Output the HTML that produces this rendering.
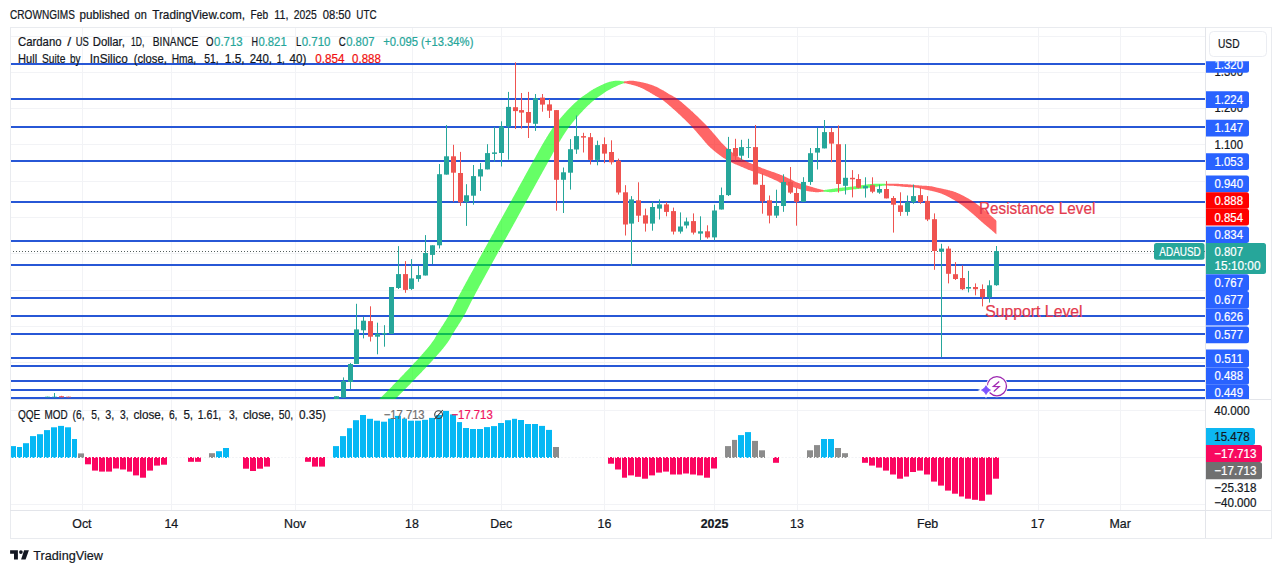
<!DOCTYPE html>
<html><head><meta charset="utf-8"><title>ADAUSD chart</title>
<style>
html,body{margin:0;padding:0;background:#fff;}
body{width:1281px;height:573px;overflow:hidden;font-family:'Liberation Sans', sans-serif;}
svg{display:block;font-family:'Liberation Sans', sans-serif;}
</style></head><body>
<svg width="1281" height="573" viewBox="0 0 1281 573">
<rect width="1281" height="573" fill="#fff"/>
<g stroke="#f2f3f6" stroke-width="1" shape-rendering="crispEdges">
<line x1="82.5" y1="27" x2="82.5" y2="510"/>
<line x1="171.5" y1="27" x2="171.5" y2="510"/>
<line x1="295.5" y1="27" x2="295.5" y2="510"/>
<line x1="412.5" y1="27" x2="412.5" y2="510"/>
<line x1="501.5" y1="27" x2="501.5" y2="510"/>
<line x1="604.5" y1="27" x2="604.5" y2="510"/>
<line x1="714.5" y1="27" x2="714.5" y2="510"/>
<line x1="797.5" y1="27" x2="797.5" y2="510"/>
<line x1="928.5" y1="27" x2="928.5" y2="510"/>
<line x1="1038.5" y1="27" x2="1038.5" y2="510"/>
<line x1="1120.5" y1="27" x2="1120.5" y2="510"/>
<line x1="10" y1="36.5" x2="1205.5" y2="36.5"/>
<line x1="10" y1="72.5" x2="1205.5" y2="72.5"/>
<line x1="10" y1="108.5" x2="1205.5" y2="108.5"/>
<line x1="10" y1="144.5" x2="1205.5" y2="144.5"/>
<line x1="10" y1="181.5" x2="1205.5" y2="181.5"/>
<line x1="10" y1="217.5" x2="1205.5" y2="217.5"/>
<line x1="10" y1="253.5" x2="1205.5" y2="253.5"/>
<line x1="10" y1="290.5" x2="1205.5" y2="290.5"/>
<line x1="10" y1="326.5" x2="1205.5" y2="326.5"/>
<line x1="10" y1="362.5" x2="1205.5" y2="362.5"/>
<line x1="10" y1="410.5" x2="1205.5" y2="410.5"/>
<line x1="10" y1="457.5" x2="1205.5" y2="457.5"/>
<line x1="10" y1="504.5" x2="1205.5" y2="504.5"/>
</g>
<clipPath id="p1"><rect x="10" y="27" width="1195.5" height="372"/></clipPath>
<g clip-path="url(#p1)">
<line x1="10" y1="251.5" x2="1205.5" y2="251.5" stroke="#56605f" stroke-width="1" stroke-dasharray="1 2" shape-rendering="crispEdges"/>
<rect x="10" y="63" width="1195.5" height="2" fill="#2757d6"/>
<rect x="10" y="98" width="1195.5" height="2" fill="#2757d6"/>
<rect x="10" y="126" width="1195.5" height="2" fill="#2757d6"/>
<rect x="10" y="160" width="1195.5" height="2" fill="#2757d6"/>
<rect x="10" y="201" width="1195.5" height="2" fill="#2757d6"/>
<rect x="10" y="240" width="1195.5" height="2" fill="#2757d6"/>
<rect x="10" y="264" width="1195.5" height="2" fill="#2757d6"/>
<rect x="10" y="297" width="1195.5" height="2" fill="#2757d6"/>
<rect x="10" y="315" width="1195.5" height="2" fill="#2757d6"/>
<rect x="10" y="333" width="1195.5" height="2" fill="#2757d6"/>
<rect x="10" y="357" width="1195.5" height="2" fill="#2757d6"/>
<rect x="10" y="365" width="1195.5" height="2" fill="#2757d6"/>
<rect x="10" y="380" width="1195.5" height="2" fill="#2757d6"/>
<rect x="10" y="389" width="1195.5" height="2" fill="#2757d6"/>
<rect x="10" y="397" width="1195.5" height="2" fill="#2757d6"/>
<clipPath id="bandclip"><rect x="0" y="0" width="996.4" height="399"/></clipPath>
<g opacity="0.6" clip-path="url(#bandclip)">
<polygon points="370.0,408.3 370.5,407.9 371.0,407.4 371.5,407.0 372.0,406.5 372.5,406.1 373.0,405.6 373.5,405.2 374.0,404.7 374.5,404.3 375.0,403.8 375.5,403.4 376.0,403.0 376.5,402.5 377.0,402.1 377.5,401.6 378.0,401.2 378.5,400.7 379.0,400.2 379.5,399.8 380.0,399.3 380.5,398.9 381.0,398.4 381.5,397.9 382.0,397.4 382.5,397.0 383.0,396.5 383.5,396.0 384.0,395.5 384.5,395.0 385.0,394.5 385.5,394.0 386.0,393.5 386.5,393.0 387.0,392.5 387.5,392.0 388.0,391.5 388.5,391.0 389.0,390.5 389.5,390.0 390.0,389.5 390.5,389.0 391.0,388.5 391.5,388.0 392.0,387.5 392.5,387.0 393.0,386.4 393.5,385.9 394.0,385.4 394.5,384.9 395.0,384.4 395.5,383.8 396.0,383.3 396.5,382.8 397.0,382.3 397.5,381.8 398.0,381.2 398.5,380.7 399.0,380.2 399.5,379.7 400.0,379.2 400.5,378.6 401.0,378.1 401.5,377.6 402.0,377.1 402.5,376.6 403.0,376.0 403.5,375.5 404.0,375.0 404.5,374.5 405.0,373.9 405.5,373.4 406.0,372.9 406.5,372.4 407.0,371.8 407.5,371.3 408.0,370.8 408.5,370.3 409.0,369.7 409.5,369.2 410.0,368.7 410.5,368.2 411.0,367.6 411.5,367.1 412.0,366.6 412.5,366.0 413.0,365.5 413.5,365.0 414.0,364.4 414.5,363.9 415.0,363.4 415.5,362.9 416.0,362.3 416.5,361.8 417.0,361.2 417.5,360.7 418.0,360.2 418.5,359.6 419.0,359.1 419.5,358.5 420.0,357.9 420.5,357.4 421.0,356.8 421.5,356.2 422.0,355.7 422.5,355.1 423.0,354.5 423.5,354.0 424.0,353.4 424.5,352.9 425.0,352.3 425.5,351.7 426.0,351.1 426.5,350.6 427.0,350.0 427.5,349.4 428.0,348.8 428.5,348.2 429.0,347.6 429.5,347.0 430.0,346.3 430.5,345.7 431.0,345.0 431.5,344.4 432.0,343.7 432.5,343.0 433.0,342.3 433.5,341.6 434.0,340.9 434.5,340.2 435.0,339.4 435.5,338.6 436.0,337.7 436.5,336.8 437.0,335.9 437.5,335.0 438.0,334.1 438.5,333.3 439.0,332.5 439.5,331.7 440.0,330.9 440.5,330.1 441.0,329.3 441.5,328.5 442.0,327.7 442.5,326.9 443.0,326.2 443.5,325.4 444.0,324.6 444.5,323.8 445.0,323.0 445.5,322.3 446.0,321.5 446.5,320.7 447.0,319.8 447.5,319.0 448.0,318.2 448.5,317.3 449.0,316.5 449.5,315.6 450.0,314.7 450.5,313.8 451.0,312.8 451.5,311.9 452.0,310.9 452.5,310.0 453.0,309.0 453.5,308.0 454.0,307.0 454.5,306.0 455.0,305.0 455.5,304.0 456.0,303.0 456.5,302.0 457.0,301.0 457.5,300.0 458.0,299.1 458.5,298.1 459.0,297.2 459.5,296.2 460.0,295.3 460.5,294.4 461.0,293.4 461.5,292.5 462.0,291.6 462.5,290.6 463.0,289.7 463.5,288.8 464.0,287.8 464.5,286.9 465.0,286.0 465.5,285.1 466.0,284.2 466.5,283.2 467.0,282.3 467.5,281.4 468.0,280.5 468.5,279.6 469.0,278.7 469.5,277.7 470.0,276.8 470.5,275.9 471.0,275.0 471.5,274.1 472.0,273.2 472.5,272.3 473.0,271.4 473.5,270.5 474.0,269.6 474.5,268.7 475.0,267.8 475.5,266.9 476.0,266.0 476.5,265.1 477.0,264.2 477.5,263.3 478.0,262.4 478.5,261.5 479.0,260.5 479.5,259.6 480.0,258.7 480.5,257.8 481.0,256.9 481.5,256.0 482.0,255.1 482.5,254.2 483.0,253.3 483.5,252.4 484.0,251.5 484.5,250.6 485.0,249.7 485.5,248.8 486.0,247.9 486.5,247.0 487.0,246.1 487.5,245.2 488.0,244.3 488.5,243.4 489.0,242.5 489.5,241.6 490.0,240.7 490.5,239.8 491.0,238.9 491.5,238.0 492.0,237.1 492.5,236.2 493.0,235.3 493.5,234.4 494.0,233.5 494.5,232.5 495.0,231.6 495.5,230.7 496.0,229.8 496.5,228.9 497.0,228.0 497.5,227.1 498.0,226.2 498.5,225.3 499.0,224.4 499.5,223.5 500.0,222.6 500.5,221.7 501.0,220.8 501.5,219.9 502.0,219.0 502.5,218.1 503.0,217.2 503.5,216.3 504.0,215.4 504.5,214.5 505.0,213.6 505.5,212.7 506.0,211.8 506.5,210.9 507.0,210.0 507.5,209.1 508.0,208.2 508.5,207.3 509.0,206.4 509.5,205.5 510.0,204.6 510.5,203.7 511.0,202.7 511.5,201.8 512.0,200.9 512.5,200.0 513.0,199.1 513.5,198.2 514.0,197.3 514.5,196.4 515.0,195.5 515.5,194.6 516.0,193.7 516.5,192.8 517.0,191.9 517.5,191.0 518.0,190.1 518.5,189.1 519.0,188.2 519.5,187.3 520.0,186.4 520.5,185.5 521.0,184.6 521.5,183.7 522.0,182.8 522.5,181.9 523.0,181.0 523.5,180.1 524.0,179.2 524.5,178.3 525.0,177.3 525.5,176.4 526.0,175.5 526.5,174.6 527.0,173.7 527.5,172.8 528.0,171.9 528.5,171.0 529.0,170.1 529.5,169.2 530.0,168.3 530.5,167.4 531.0,166.5 531.5,165.6 532.0,164.7 532.5,163.8 533.0,162.9 533.5,162.0 534.0,161.1 534.5,160.2 535.0,159.3 535.5,158.4 536.0,157.5 536.5,156.6 537.0,155.7 537.5,154.8 538.0,153.9 538.5,153.0 539.0,152.1 539.5,151.2 540.0,150.3 540.5,149.4 541.0,148.5 541.5,147.6 542.0,146.7 542.5,145.8 543.0,145.0 543.5,144.1 544.0,143.2 544.5,142.4 545.0,141.5 545.5,140.7 546.0,139.9 546.5,139.1 547.0,138.2 547.5,137.4 548.0,136.6 548.5,135.8 549.0,135.0 549.5,134.2 550.0,133.4 550.5,132.6 551.0,131.8 551.5,131.1 552.0,130.3 552.5,129.6 553.0,128.9 553.5,128.2 554.0,127.5 554.5,126.8 555.0,126.2 555.5,125.5 556.0,124.9 556.5,124.3 557.0,123.6 557.5,123.0 558.0,122.4 558.5,121.8 559.0,121.2 559.5,120.5 560.0,119.9 560.5,119.3 561.0,118.7 561.5,118.1 562.0,117.6 562.5,117.0 563.0,116.4 563.5,115.8 564.0,115.2 564.5,114.7 565.0,114.1 565.5,113.6 566.0,113.0 566.5,112.5 567.0,111.9 567.5,111.4 568.0,110.8 568.5,110.3 569.0,109.8 569.5,109.3 570.0,108.7 570.5,108.2 571.0,107.7 571.5,107.2 572.0,106.7 572.5,106.2 573.0,105.7 573.5,105.3 574.0,104.8 574.5,104.3 575.0,103.8 575.5,103.4 576.0,102.9 576.5,102.5 577.0,102.0 577.5,101.6 578.0,101.1 578.5,100.7 579.0,100.3 579.5,99.8 580.0,99.4 580.5,99.0 581.0,98.6 581.5,98.2 582.0,97.8 582.5,97.5 583.0,97.1 583.5,96.7 584.0,96.4 584.5,96.1 585.0,95.7 585.5,95.4 586.0,95.0 586.5,94.7 587.0,94.4 587.5,94.0 588.0,93.7 588.5,93.3 589.0,93.0 589.5,92.6 590.0,92.2 590.5,91.9 591.0,91.6 591.5,91.2 592.0,90.9 592.5,90.6 593.0,90.3 593.5,90.0 594.0,89.7 594.5,89.4 595.0,89.1 595.5,88.9 596.0,88.6 596.5,88.3 597.0,88.1 597.5,87.8 598.0,87.6 598.5,87.3 599.0,87.1 599.5,86.8 600.0,86.6 600.5,86.3 601.0,86.1 601.5,85.8 602.0,85.6 602.5,85.4 603.0,85.1 603.5,84.9 604.0,84.7 604.5,84.5 605.0,84.2 605.5,84.0 606.0,83.9 606.5,83.7 607.0,83.5 607.5,83.3 608.0,83.1 608.5,82.9 609.0,82.8 609.5,82.6 610.0,82.5 610.5,82.4 611.0,82.3 611.5,82.2 612.0,82.1 612.5,82.0 613.0,81.9 613.5,81.8 614.0,81.8 614.5,81.7 615.0,81.6 615.5,81.6 616.0,81.5 616.5,81.5 617.0,81.5 617.5,81.5 618.0,81.5 618.5,81.5 619.0,81.6 619.5,81.6 620.0,81.7 620.5,81.7 621.0,81.8 621.5,81.9 622.0,82.0 622.5,82.0 623.0,82.1 623.5,82.2 624.0,82.3 624.5,82.4 624.5,82.3 624.0,82.4 623.5,82.6 623.0,82.7 622.5,82.8 622.0,83.0 621.5,83.2 621.0,83.4 620.5,83.6 620.0,83.8 619.5,84.0 619.0,84.1 618.5,84.4 618.0,84.6 617.5,84.8 617.0,85.0 616.5,85.2 616.0,85.5 615.5,85.7 615.0,86.0 614.5,86.2 614.0,86.4 613.5,86.7 613.0,86.9 612.5,87.2 612.0,87.4 611.5,87.7 611.0,87.9 610.5,88.2 610.0,88.5 609.5,88.7 609.0,89.0 608.5,89.3 608.0,89.5 607.5,89.8 607.0,90.1 606.5,90.4 606.0,90.7 605.5,91.1 605.0,91.4 604.5,91.7 604.0,92.1 603.5,92.4 603.0,92.8 602.5,93.1 602.0,93.5 601.5,93.8 601.0,94.2 600.5,94.5 600.0,94.9 599.5,95.2 599.0,95.5 598.5,95.9 598.0,96.2 597.5,96.6 597.0,96.9 596.5,97.3 596.0,97.6 595.5,98.0 595.0,98.4 594.5,98.8 594.0,99.2 593.5,99.6 593.0,100.1 592.5,100.5 592.0,100.9 591.5,101.3 591.0,101.8 590.5,102.2 590.0,102.7 589.5,103.1 589.0,103.6 588.5,104.1 588.0,104.5 587.5,105.0 587.0,105.5 586.5,106.0 586.0,106.5 585.5,107.0 585.0,107.5 584.5,108.0 584.0,108.5 583.5,109.0 583.0,109.5 582.5,110.0 582.0,110.6 581.5,111.1 581.0,111.6 580.5,112.2 580.0,112.7 579.5,113.3 579.0,113.8 578.5,114.4 578.0,115.0 577.5,115.5 577.0,116.1 576.5,116.7 576.0,117.3 575.5,117.9 575.0,118.4 574.5,119.0 574.0,119.6 573.5,120.2 573.0,120.8 572.5,121.5 572.0,122.1 571.5,122.7 571.0,123.3 570.5,124.0 570.0,124.6 569.5,125.2 569.0,125.9 568.5,126.5 568.0,127.2 567.5,127.8 567.0,128.5 566.5,129.2 566.0,130.0 565.5,130.7 565.0,131.5 564.5,132.2 564.0,133.0 563.5,133.8 563.0,134.6 562.5,135.4 562.0,136.2 561.5,137.0 561.0,137.8 560.5,138.6 560.0,139.5 559.5,140.3 559.0,141.1 558.5,142.0 558.0,142.8 557.5,143.7 557.0,144.5 556.5,145.4 556.0,146.3 555.5,147.1 555.0,148.0 554.5,148.9 554.0,149.8 553.5,150.7 553.0,151.6 552.5,152.5 552.0,153.4 551.5,154.3 551.0,155.3 550.5,156.2 550.0,157.1 549.5,158.0 549.0,158.9 548.5,159.8 548.0,160.7 547.5,161.6 547.0,162.5 546.5,163.4 546.0,164.3 545.5,165.2 545.0,166.1 544.5,167.0 544.0,167.9 543.5,168.8 543.0,169.7 542.5,170.6 542.0,171.5 541.5,172.4 541.0,173.3 540.5,174.2 540.0,175.1 539.5,176.0 539.0,176.9 538.5,177.8 538.0,178.7 537.5,179.6 537.0,180.5 536.5,181.4 536.0,182.3 535.5,183.2 535.0,184.2 534.5,185.1 534.0,186.0 533.5,186.9 533.0,187.8 532.5,188.7 532.0,189.6 531.5,190.5 531.0,191.4 530.5,192.3 530.0,193.2 529.5,194.1 529.0,195.1 528.5,196.0 528.0,196.9 527.5,197.8 527.0,198.7 526.5,199.6 526.0,200.5 525.5,201.4 525.0,202.3 524.5,203.2 524.0,204.1 523.5,205.0 523.0,205.9 522.5,206.8 522.0,207.7 521.5,208.6 521.0,209.5 520.5,210.4 520.0,211.3 519.5,212.2 519.0,213.1 518.5,214.0 518.0,214.9 517.5,215.8 517.0,216.7 516.5,217.6 516.0,218.6 515.5,219.5 515.0,220.4 514.5,221.3 514.0,222.2 513.5,223.1 513.0,224.0 512.5,224.9 512.0,225.8 511.5,226.7 511.0,227.6 510.5,228.5 510.0,229.4 509.5,230.3 509.0,231.2 508.5,232.1 508.0,233.0 507.5,233.9 507.0,234.8 506.5,235.7 506.0,236.6 505.5,237.5 505.0,238.4 504.5,239.3 504.0,240.2 503.5,241.2 503.0,242.1 502.5,243.0 502.0,243.9 501.5,244.8 501.0,245.7 500.5,246.6 500.0,247.5 499.5,248.4 499.0,249.3 498.5,250.2 498.0,251.1 497.5,252.0 497.0,252.9 496.5,253.8 496.0,254.7 495.5,255.6 495.0,256.5 494.5,257.4 494.0,258.3 493.5,259.2 493.0,260.1 492.5,261.0 492.0,261.9 491.5,262.8 491.0,263.7 490.5,264.6 490.0,265.5 489.5,266.4 489.0,267.3 488.5,268.2 488.0,269.1 487.5,270.0 487.0,270.9 486.5,271.8 486.0,272.7 485.5,273.7 485.0,274.6 484.5,275.5 484.0,276.4 483.5,277.3 483.0,278.2 482.5,279.1 482.0,280.0 481.5,280.9 481.0,281.9 480.5,282.8 480.0,283.7 479.5,284.6 479.0,285.5 478.5,286.5 478.0,287.4 477.5,288.3 477.0,289.2 476.5,290.2 476.0,291.1 475.5,292.0 475.0,293.0 474.5,293.9 474.0,294.8 473.5,295.8 473.0,296.7 472.5,297.7 472.0,298.6 471.5,299.6 471.0,300.5 470.5,301.5 470.0,302.5 469.5,303.5 469.0,304.5 468.5,305.5 468.0,306.5 467.5,307.5 467.0,308.5 466.5,309.5 466.0,310.4 465.5,311.4 465.0,312.4 464.5,313.3 464.0,314.2 463.5,315.1 463.0,316.0 462.5,316.9 462.0,317.8 461.5,318.6 461.0,319.4 460.5,320.3 460.0,321.1 459.5,321.9 459.0,322.7 458.5,323.4 458.0,324.2 457.5,325.0 457.0,325.8 456.5,326.6 456.0,327.3 455.5,328.1 455.0,328.9 454.5,329.7 454.0,330.5 453.5,331.3 453.0,332.1 452.5,332.9 452.0,333.7 451.5,334.6 451.0,335.5 450.5,336.4 450.0,337.3 449.5,338.2 449.0,339.0 448.5,339.8 448.0,340.6 447.5,341.3 447.0,342.0 446.5,342.7 446.0,343.4 445.5,344.1 445.0,344.7 444.5,345.4 444.0,346.0 443.5,346.6 443.0,347.3 442.5,347.9 442.0,348.5 441.5,349.1 441.0,349.7 440.5,350.3 440.0,350.9 439.5,351.4 439.0,352.0 438.5,352.6 438.0,353.1 437.5,353.7 437.0,354.3 436.5,354.8 436.0,355.4 435.5,356.0 435.0,356.5 434.5,357.1 434.0,357.7 433.5,358.2 433.0,358.8 432.5,359.3 432.0,359.9 431.5,360.4 431.0,361.0 430.5,361.5 430.0,362.1 429.5,362.6 429.0,363.1 428.5,363.6 428.0,364.2 427.5,364.7 427.0,365.2 426.5,365.8 426.0,366.3 425.5,366.8 425.0,367.4 424.5,367.9 424.0,368.4 423.5,369.0 423.0,369.5 422.5,370.0 422.0,370.5 421.5,371.1 421.0,371.6 420.5,372.1 420.0,372.6 419.5,373.2 419.0,373.7 418.5,374.2 418.0,374.7 417.5,375.3 417.0,375.8 416.5,376.3 416.0,376.8 415.5,377.3 415.0,377.9 414.5,378.4 414.0,378.9 413.5,379.4 413.0,379.9 412.5,380.5 412.0,381.0 411.5,381.5 411.0,382.0 410.5,382.5 410.0,383.1 409.5,383.6 409.0,384.1 408.5,384.6 408.0,385.2 407.5,385.7 407.0,386.2 406.5,386.7 406.0,387.2 405.5,387.7 405.0,388.2 404.5,388.8 404.0,389.3 403.5,389.8 403.0,390.3 402.5,390.8 402.0,391.3 401.5,391.8 401.0,392.3 400.5,392.8 400.0,393.3 399.5,393.8 399.0,394.3 398.5,394.8 398.0,395.3 397.5,395.8 397.0,396.2 396.5,396.7 396.0,397.2 395.5,397.7 395.0,398.2 394.5,398.6 394.0,399.1 393.5,399.6 393.0,400.0 392.5,400.5 392.0,400.9 391.5,401.4 391.0,401.8 390.5,402.3 390.0,402.7 389.5,403.2 389.0,403.6 388.5,404.1 388.0,404.5 387.5,405.0 387.0,405.4 386.5,405.8 386.0,406.3 385.5,406.7 385.0,407.2 384.5,407.6 384.0,408.1 383.5,408.5 383.0,409.0 382.5,409.4 382.0,409.9 381.5,410.3 381.0,410.8 380.5,411.3 380.0,411.7 379.5,412.2 379.0,412.6 378.5,413.1 378.0,413.6 377.5,414.0 377.0,414.5 376.5,414.9 376.0,415.4 375.5,415.9 375.0,416.3 374.5,416.8 374.0,417.2 373.5,417.7 373.0,418.2 372.5,418.6 372.0,419.1 371.5,419.6 371.0,420.0 370.5,420.5 370.0,421.0" fill="#00ff00" stroke="#00ff00" stroke-width="1.5" stroke-linejoin="round"/>
<polygon points="624.5,82.4 625.0,82.4 625.5,82.5 626.0,82.6 626.5,82.7 627.0,82.8 627.5,82.9 628.0,83.0 628.5,83.2 629.0,83.3 629.5,83.4 630.0,83.5 630.5,83.6 631.0,83.8 631.5,83.9 632.0,84.0 632.5,84.2 633.0,84.3 633.5,84.4 634.0,84.6 634.5,84.7 635.0,84.8 635.5,85.0 636.0,85.1 636.5,85.3 637.0,85.5 637.5,85.6 638.0,85.8 638.5,86.0 639.0,86.2 639.5,86.3 640.0,86.5 640.5,86.7 641.0,87.0 641.5,87.2 642.0,87.4 642.5,87.7 643.0,87.9 643.5,88.1 644.0,88.4 644.5,88.7 645.0,88.9 645.5,89.2 646.0,89.5 646.5,89.7 647.0,90.0 647.5,90.3 648.0,90.5 648.5,90.8 649.0,91.1 649.5,91.4 650.0,91.7 650.5,92.0 651.0,92.3 651.5,92.6 652.0,92.9 652.5,93.2 653.0,93.5 653.5,93.8 654.0,94.1 654.5,94.4 655.0,94.7 655.5,95.0 656.0,95.3 656.5,95.6 657.0,95.9 657.5,96.1 658.0,96.4 658.5,96.7 659.0,96.9 659.5,97.2 660.0,97.5 660.5,97.8 661.0,98.1 661.5,98.4 662.0,98.7 662.5,99.1 663.0,99.4 663.5,99.7 664.0,100.1 664.5,100.5 665.0,100.9 665.5,101.3 666.0,101.7 666.5,102.1 667.0,102.5 667.5,102.9 668.0,103.3 668.5,103.8 669.0,104.2 669.5,104.6 670.0,105.1 670.5,105.5 671.0,105.9 671.5,106.4 672.0,106.8 672.5,107.3 673.0,107.7 673.5,108.1 674.0,108.6 674.5,109.0 675.0,109.5 675.5,109.9 676.0,110.3 676.5,110.8 677.0,111.3 677.5,111.7 678.0,112.2 678.5,112.6 679.0,113.1 679.5,113.6 680.0,114.0 680.5,114.5 681.0,115.0 681.5,115.5 682.0,115.9 682.5,116.4 683.0,116.9 683.5,117.4 684.0,117.8 684.5,118.3 685.0,118.8 685.5,119.3 686.0,119.8 686.5,120.3 687.0,120.8 687.5,121.2 688.0,121.7 688.5,122.2 689.0,122.7 689.5,123.2 690.0,123.8 690.5,124.3 691.0,124.8 691.5,125.3 692.0,125.8 692.5,126.3 693.0,126.9 693.5,127.4 694.0,127.9 694.5,128.5 695.0,129.1 695.5,129.6 696.0,130.2 696.5,130.7 697.0,131.3 697.5,131.9 698.0,132.5 698.5,133.1 699.0,133.6 699.5,134.2 700.0,134.8 700.5,135.4 701.0,135.9 701.5,136.5 702.0,137.1 702.5,137.7 703.0,138.3 703.5,138.9 704.0,139.5 704.5,140.1 705.0,140.7 705.5,141.3 706.0,141.9 706.5,142.5 707.0,143.0 707.5,143.6 708.0,144.1 708.5,144.7 709.0,145.2 709.5,145.7 710.0,146.2 710.5,146.6 711.0,147.1 711.5,147.6 712.0,148.0 712.5,148.5 713.0,148.9 713.5,149.3 714.0,149.8 714.5,150.2 715.0,150.6 715.5,151.0 716.0,151.4 716.5,151.8 717.0,152.2 717.5,152.6 718.0,153.0 718.5,153.4 719.0,153.7 719.5,154.1 720.0,154.5 720.5,154.9 721.0,155.2 721.5,155.6 722.0,155.9 722.5,156.3 723.0,156.6 723.5,157.0 724.0,157.3 724.5,157.6 725.0,157.9 725.5,158.2 726.0,158.5 726.5,158.8 727.0,159.1 727.5,159.4 728.0,159.7 728.5,160.0 729.0,160.3 729.5,160.5 730.0,160.8 730.5,161.1 731.0,161.3 731.5,161.6 732.0,161.8 732.5,162.1 733.0,162.3 733.5,162.6 734.0,162.8 734.5,163.0 735.0,163.3 735.5,163.5 736.0,163.7 736.5,163.9 737.0,164.1 737.5,164.3 738.0,164.5 738.5,164.7 739.0,164.9 739.5,165.1 740.0,165.3 740.5,165.6 741.0,165.8 741.5,166.0 742.0,166.2 742.5,166.4 743.0,166.6 743.5,166.9 744.0,167.1 744.5,167.3 745.0,167.5 745.5,167.7 746.0,167.9 746.5,168.1 747.0,168.3 747.5,168.6 748.0,168.8 748.5,169.0 749.0,169.2 749.5,169.4 750.0,169.6 750.5,169.7 751.0,169.9 751.5,170.1 752.0,170.3 752.5,170.5 753.0,170.6 753.5,170.8 754.0,171.0 754.5,171.2 755.0,171.3 755.5,171.5 756.0,171.7 756.5,171.8 757.0,172.0 757.5,172.2 758.0,172.4 758.5,172.5 759.0,172.7 759.5,172.9 760.0,173.1 760.5,173.2 761.0,173.4 761.5,173.6 762.0,173.8 762.5,174.0 763.0,174.2 763.5,174.3 764.0,174.5 764.5,174.7 765.0,174.9 765.5,175.1 766.0,175.3 766.5,175.5 767.0,175.7 767.5,175.9 768.0,176.1 768.5,176.4 769.0,176.6 769.5,176.8 770.0,177.0 770.5,177.2 771.0,177.4 771.5,177.6 772.0,177.9 772.5,178.1 773.0,178.3 773.5,178.5 774.0,178.7 774.5,179.0 775.0,179.2 775.5,179.4 776.0,179.7 776.5,179.9 777.0,180.1 777.5,180.4 778.0,180.6 778.5,180.9 779.0,181.2 779.5,181.5 780.0,181.8 780.5,182.0 781.0,182.3 781.5,182.5 782.0,182.7 782.5,183.0 783.0,183.1 783.5,183.3 784.0,183.5 784.5,183.7 785.0,183.9 785.5,184.1 786.0,184.2 786.5,184.4 787.0,184.5 787.5,184.7 788.0,184.9 788.5,185.0 789.0,185.2 789.5,185.3 790.0,185.4 790.5,185.6 791.0,185.7 791.5,185.9 792.0,186.0 792.5,186.2 793.0,186.3 793.5,186.4 794.0,186.6 794.5,186.7 795.0,186.9 795.5,187.0 796.0,187.2 796.5,187.3 797.0,187.5 797.5,187.6 798.0,187.8 798.5,187.9 799.0,188.1 799.5,188.2 800.0,188.4 800.5,188.5 801.0,188.7 801.5,188.8 802.0,188.9 802.5,189.1 803.0,189.2 803.5,189.3 804.0,189.5 804.5,189.6 805.0,189.7 805.5,189.8 806.0,190.0 806.5,190.1 807.0,190.2 807.5,190.3 808.0,190.4 808.5,190.5 809.0,190.6 809.5,190.7 810.0,190.8 810.5,190.8 811.0,190.9 811.5,191.0 812.0,191.0 812.5,191.1 813.0,191.1 813.5,191.2 814.0,191.2 814.5,191.3 815.0,191.3 815.5,191.4 816.0,191.4 816.5,191.4 817.0,191.4 817.5,191.4 818.0,191.4 818.5,191.4 819.0,191.3 819.5,191.3 820.0,191.2 820.5,191.2 821.0,191.1 821.5,191.1 822.0,191.0 822.5,191.0 823.0,190.9 823.5,190.8 824.0,190.8 824.0,190.8 823.5,190.7 823.0,190.7 822.5,190.6 822.0,190.5 821.5,190.4 821.0,190.3 820.5,190.2 820.0,190.0 819.5,189.9 819.0,189.8 818.5,189.7 818.0,189.5 817.5,189.4 817.0,189.3 816.5,189.1 816.0,189.0 815.5,188.9 815.0,188.7 814.5,188.6 814.0,188.4 813.5,188.3 813.0,188.1 812.5,188.0 812.0,187.8 811.5,187.7 811.0,187.5 810.5,187.4 810.0,187.2 809.5,187.1 809.0,186.9 808.5,186.8 808.0,186.7 807.5,186.5 807.0,186.4 806.5,186.2 806.0,186.1 805.5,185.9 805.0,185.8 804.5,185.7 804.0,185.5 803.5,185.4 803.0,185.2 802.5,185.1 802.0,184.9 801.5,184.8 801.0,184.6 800.5,184.5 800.0,184.3 799.5,184.1 799.0,184.0 798.5,183.8 798.0,183.6 797.5,183.4 797.0,183.2 796.5,183.0 796.0,182.9 795.5,182.6 795.0,182.4 794.5,182.2 794.0,181.9 793.5,181.6 793.0,181.3 792.5,181.1 792.0,180.8 791.5,180.5 791.0,180.3 790.5,180.0 790.0,179.8 789.5,179.6 789.0,179.3 788.5,179.1 788.0,178.9 787.5,178.6 787.0,178.4 786.5,178.2 786.0,178.0 785.5,177.7 785.0,177.5 784.5,177.3 784.0,177.1 783.5,176.9 783.0,176.7 782.5,176.5 782.0,176.3 781.5,176.0 781.0,175.8 780.5,175.6 780.0,175.4 779.5,175.2 779.0,175.0 778.5,174.8 778.0,174.6 777.5,174.4 777.0,174.2 776.5,174.1 776.0,173.9 775.5,173.7 775.0,173.5 774.5,173.3 774.0,173.1 773.5,173.0 773.0,172.8 772.5,172.6 772.0,172.4 771.5,172.3 771.0,172.1 770.5,171.9 770.0,171.7 769.5,171.6 769.0,171.4 768.5,171.2 768.0,171.1 767.5,170.9 767.0,170.7 766.5,170.6 766.0,170.4 765.5,170.2 765.0,170.0 764.5,169.8 764.0,169.6 763.5,169.5 763.0,169.3 762.5,169.1 762.0,168.9 761.5,168.7 761.0,168.5 760.5,168.2 760.0,168.0 759.5,167.8 759.0,167.6 758.5,167.4 758.0,167.2 757.5,167.0 757.0,166.7 756.5,166.5 756.0,166.3 755.5,166.1 755.0,165.9 754.5,165.7 754.0,165.5 753.5,165.2 753.0,165.0 752.5,164.8 752.0,164.6 751.5,164.4 751.0,164.2 750.5,164.0 750.0,163.8 749.5,163.6 749.0,163.4 748.5,163.1 748.0,162.9 747.5,162.7 747.0,162.5 746.5,162.2 746.0,162.0 745.5,161.7 745.0,161.5 744.5,161.2 744.0,160.9 743.5,160.7 743.0,160.4 742.5,160.1 742.0,159.9 741.5,159.6 741.0,159.3 740.5,159.0 740.0,158.7 739.5,158.4 739.0,158.1 738.5,157.8 738.0,157.4 737.5,157.1 737.0,156.8 736.5,156.5 736.0,156.1 735.5,155.8 735.0,155.4 734.5,155.0 734.0,154.7 733.5,154.3 733.0,153.9 732.5,153.6 732.0,153.2 731.5,152.8 731.0,152.4 730.5,152.0 730.0,151.6 729.5,151.2 729.0,150.8 728.5,150.4 728.0,150.0 727.5,149.5 727.0,149.1 726.5,148.7 726.0,148.2 725.5,147.8 725.0,147.3 724.5,146.9 724.0,146.4 723.5,145.9 723.0,145.4 722.5,144.9 722.0,144.4 721.5,143.9 721.0,143.3 720.5,142.8 720.0,142.2 719.5,141.6 719.0,141.0 718.5,140.4 718.0,139.8 717.5,139.2 717.0,138.6 716.5,138.0 716.0,137.4 715.5,136.8 715.0,136.2 714.5,135.6 714.0,135.1 713.5,134.5 713.0,133.9 712.5,133.3 712.0,132.8 711.5,132.2 711.0,131.6 710.5,131.0 710.0,130.5 709.5,129.9 709.0,129.3 708.5,128.8 708.0,128.2 707.5,127.7 707.0,127.1 706.5,126.6 706.0,126.1 705.5,125.5 705.0,125.0 704.5,124.5 704.0,124.0 703.5,123.5 703.0,123.0 702.5,122.5 702.0,122.0 701.5,121.5 701.0,121.0 700.5,120.5 700.0,120.0 699.5,119.5 699.0,119.0 698.5,118.6 698.0,118.1 697.5,117.6 697.0,117.1 696.5,116.6 696.0,116.2 695.5,115.7 695.0,115.2 694.5,114.7 694.0,114.3 693.5,113.8 693.0,113.3 692.5,112.9 692.0,112.4 691.5,111.9 691.0,111.5 690.5,111.0 690.0,110.6 689.5,110.1 689.0,109.7 688.5,109.2 688.0,108.8 687.5,108.3 687.0,107.9 686.5,107.5 686.0,107.0 685.5,106.6 685.0,106.2 684.5,105.7 684.0,105.3 683.5,104.8 683.0,104.4 682.5,104.0 682.0,103.5 681.5,103.1 681.0,102.7 680.5,102.3 680.0,101.9 679.5,101.5 679.0,101.1 678.5,100.7 678.0,100.3 677.5,99.9 677.0,99.6 676.5,99.2 676.0,98.9 675.5,98.6 675.0,98.2 674.5,97.9 674.0,97.7 673.5,97.4 673.0,97.1 672.5,96.8 672.0,96.5 671.5,96.3 671.0,96.0 670.5,95.7 670.0,95.4 669.5,95.2 669.0,94.9 668.5,94.6 668.0,94.3 667.5,94.0 667.0,93.7 666.5,93.4 666.0,93.0 665.5,92.7 665.0,92.4 664.5,92.1 664.0,91.8 663.5,91.5 663.0,91.2 662.5,90.9 662.0,90.7 661.5,90.4 661.0,90.1 660.5,89.9 660.0,89.6 659.5,89.3 659.0,89.1 658.5,88.8 658.0,88.5 657.5,88.3 657.0,88.0 656.5,87.8 656.0,87.5 655.5,87.3 655.0,87.1 654.5,86.9 654.0,86.6 653.5,86.4 653.0,86.2 652.5,86.1 652.0,85.9 651.5,85.7 651.0,85.5 650.5,85.4 650.0,85.2 649.5,85.1 649.0,84.9 648.5,84.8 648.0,84.6 647.5,84.5 647.0,84.3 646.5,84.2 646.0,84.1 645.5,84.0 645.0,83.8 644.5,83.7 644.0,83.6 643.5,83.5 643.0,83.3 642.5,83.2 642.0,83.1 641.5,83.0 641.0,82.9 640.5,82.8 640.0,82.7 639.5,82.6 639.0,82.5 638.5,82.4 638.0,82.3 637.5,82.2 637.0,82.2 636.5,82.1 636.0,82.0 635.5,81.9 635.0,81.8 634.5,81.8 634.0,81.7 633.5,81.6 633.0,81.6 632.5,81.6 632.0,81.5 631.5,81.5 631.0,81.5 630.5,81.5 630.0,81.5 629.5,81.6 629.0,81.6 628.5,81.7 628.0,81.7 627.5,81.8 627.0,81.9 626.5,82.0 626.0,82.1 625.5,82.1 625.0,82.2 624.5,82.3" fill="#ff0000" stroke="#ff0000" stroke-width="1.5" stroke-linejoin="round"/>
<polygon points="824.0,190.8 824.5,190.7 825.0,190.7 825.5,190.6 826.0,190.6 826.5,190.5 827.0,190.4 827.5,190.3 828.0,190.3 828.5,190.2 829.0,190.1 829.5,190.0 830.0,190.0 830.5,189.9 831.0,189.8 831.5,189.7 832.0,189.7 832.5,189.6 833.0,189.5 833.5,189.4 834.0,189.4 834.5,189.3 835.0,189.2 835.5,189.2 836.0,189.1 836.5,189.0 837.0,189.0 837.5,188.9 838.0,188.9 838.5,188.8 839.0,188.7 839.5,188.7 840.0,188.6 840.5,188.6 841.0,188.5 841.5,188.4 842.0,188.4 842.5,188.3 843.0,188.3 843.5,188.2 844.0,188.2 844.5,188.1 845.0,188.1 845.5,188.0 846.0,188.0 846.5,188.0 847.0,187.9 847.5,187.9 848.0,187.8 848.5,187.8 849.0,187.7 849.5,187.7 850.0,187.6 850.5,187.6 851.0,187.5 851.5,187.5 852.0,187.4 852.5,187.3 853.0,187.3 853.5,187.2 854.0,187.2 854.5,187.1 855.0,187.0 855.5,187.0 856.0,186.9 856.5,186.8 857.0,186.7 857.5,186.7 858.0,186.6 858.5,186.5 859.0,186.4 859.5,186.4 860.0,186.3 860.5,186.2 861.0,186.1 861.5,186.0 862.0,186.0 862.5,185.9 863.0,185.8 863.5,185.8 864.0,185.7 864.5,185.6 865.0,185.6 865.5,185.5 866.0,185.4 866.5,185.3 867.0,185.3 867.5,185.2 868.0,185.1 868.5,185.1 869.0,185.0 869.5,185.0 870.0,184.9 870.5,184.8 871.0,184.8 871.5,184.8 872.0,184.7 872.5,184.7 873.0,184.7 873.5,184.6 874.0,184.6 874.5,184.6 875.0,184.5 875.5,184.5 876.0,184.5 876.5,184.5 877.0,184.4 877.5,184.4 878.0,184.4 878.5,184.4 879.0,184.4 879.5,184.4 880.0,184.4 880.5,184.4 881.0,184.4 881.5,184.5 882.0,184.5 882.5,184.5 883.0,184.5 883.5,184.6 884.0,184.6 884.5,184.6 885.0,184.6 885.5,184.7 886.0,184.7 886.0,184.7 885.5,184.7 885.0,184.8 884.5,184.8 884.0,184.9 883.5,184.9 883.0,185.0 882.5,185.0 882.0,185.1 881.5,185.2 881.0,185.2 880.5,185.3 880.0,185.4 879.5,185.4 879.0,185.5 878.5,185.6 878.0,185.6 877.5,185.7 877.0,185.8 876.5,185.9 876.0,185.9 875.5,186.0 875.0,186.1 874.5,186.2 874.0,186.2 873.5,186.3 873.0,186.4 872.5,186.5 872.0,186.6 871.5,186.6 871.0,186.7 870.5,186.8 870.0,186.9 869.5,186.9 869.0,187.0 868.5,187.1 868.0,187.1 867.5,187.2 867.0,187.3 866.5,187.3 866.0,187.4 865.5,187.4 865.0,187.5 864.5,187.5 864.0,187.6 863.5,187.6 863.0,187.7 862.5,187.7 862.0,187.8 861.5,187.8 861.0,187.9 860.5,187.9 860.0,188.0 859.5,188.0 859.0,188.1 858.5,188.1 858.0,188.2 857.5,188.2 857.0,188.3 856.5,188.3 856.0,188.4 855.5,188.4 855.0,188.5 854.5,188.5 854.0,188.6 853.5,188.6 853.0,188.7 852.5,188.8 852.0,188.8 851.5,188.9 851.0,188.9 850.5,189.0 850.0,189.1 849.5,189.1 849.0,189.2 848.5,189.3 848.0,189.3 847.5,189.4 847.0,189.5 846.5,189.5 846.0,189.6 845.5,189.7 845.0,189.8 844.5,189.9 844.0,189.9 843.5,190.0 843.0,190.1 842.5,190.2 842.0,190.2 841.5,190.3 841.0,190.4 840.5,190.4 840.0,190.5 839.5,190.6 839.0,190.6 838.5,190.7 838.0,190.8 837.5,190.8 837.0,190.9 836.5,190.9 836.0,191.0 835.5,191.0 835.0,191.1 834.5,191.2 834.0,191.2 833.5,191.3 833.0,191.3 832.5,191.3 832.0,191.4 831.5,191.4 831.0,191.4 830.5,191.4 830.0,191.4 829.5,191.4 829.0,191.3 828.5,191.3 828.0,191.3 827.5,191.2 827.0,191.2 826.5,191.1 826.0,191.1 825.5,191.0 825.0,190.9 824.5,190.9 824.0,190.8" fill="#00ff00" stroke="#00ff00" stroke-width="1.5" stroke-linejoin="round"/>
<polygon points="886.0,184.7 886.5,184.7 887.0,184.7 887.5,184.8 888.0,184.8 888.5,184.8 889.0,184.9 889.5,184.9 890.0,184.9 890.5,184.9 891.0,185.0 891.5,185.0 892.0,185.0 892.5,185.0 893.0,185.1 893.5,185.1 894.0,185.1 894.5,185.2 895.0,185.2 895.5,185.2 896.0,185.3 896.5,185.3 897.0,185.4 897.5,185.4 898.0,185.4 898.5,185.5 899.0,185.5 899.5,185.6 900.0,185.6 900.5,185.7 901.0,185.8 901.5,185.8 902.0,185.9 902.5,185.9 903.0,186.0 903.5,186.0 904.0,186.1 904.5,186.1 905.0,186.2 905.5,186.2 906.0,186.2 906.5,186.3 907.0,186.3 907.5,186.3 908.0,186.3 908.5,186.4 909.0,186.4 909.5,186.4 910.0,186.5 910.5,186.5 911.0,186.5 911.5,186.5 912.0,186.6 912.5,186.6 913.0,186.6 913.5,186.7 914.0,186.7 914.5,186.8 915.0,186.8 915.5,186.9 916.0,186.9 916.5,187.0 917.0,187.0 917.5,187.1 918.0,187.2 918.5,187.3 919.0,187.4 919.5,187.5 920.0,187.7 920.5,187.8 921.0,187.9 921.5,188.0 922.0,188.1 922.5,188.3 923.0,188.4 923.5,188.5 924.0,188.6 924.5,188.7 925.0,188.8 925.5,188.9 926.0,189.0 926.5,189.1 927.0,189.2 927.5,189.3 928.0,189.4 928.5,189.5 929.0,189.6 929.5,189.7 930.0,189.8 930.5,189.9 931.0,190.0 931.5,190.1 932.0,190.2 932.5,190.3 933.0,190.5 933.5,190.6 934.0,190.7 934.5,190.8 935.0,190.9 935.5,191.1 936.0,191.2 936.5,191.3 937.0,191.5 937.5,191.6 938.0,191.8 938.5,191.9 939.0,192.1 939.5,192.2 940.0,192.4 940.5,192.6 941.0,192.7 941.5,192.9 942.0,193.1 942.5,193.3 943.0,193.5 943.5,193.7 944.0,193.9 944.5,194.2 945.0,194.4 945.5,194.6 946.0,194.9 946.5,195.1 947.0,195.3 947.5,195.6 948.0,195.8 948.5,196.1 949.0,196.4 949.5,196.6 950.0,196.9 950.5,197.2 951.0,197.4 951.5,197.7 952.0,198.0 952.5,198.3 953.0,198.5 953.5,198.8 954.0,199.1 954.5,199.4 955.0,199.7 955.5,200.0 956.0,200.2 956.5,200.5 957.0,200.9 957.5,201.2 958.0,201.5 958.5,201.8 959.0,202.1 959.5,202.5 960.0,202.8 960.5,203.1 961.0,203.5 961.5,203.8 962.0,204.2 962.5,204.6 963.0,204.9 963.5,205.3 964.0,205.7 964.5,206.1 965.0,206.5 965.5,206.9 966.0,207.3 966.5,207.7 967.0,208.1 967.5,208.5 968.0,208.9 968.5,209.3 969.0,209.7 969.5,210.1 970.0,210.6 970.5,211.0 971.0,211.4 971.5,211.8 972.0,212.3 972.5,212.7 973.0,213.1 973.5,213.5 974.0,214.0 974.5,214.4 975.0,214.8 975.5,215.2 976.0,215.7 976.5,216.1 977.0,216.6 977.5,217.0 978.0,217.5 978.5,217.9 979.0,218.4 979.5,218.8 980.0,219.3 980.5,219.7 981.0,220.2 981.5,220.6 982.0,221.1 982.5,221.5 983.0,221.9 983.5,222.4 984.0,222.8 984.5,223.2 985.0,223.6 985.5,224.1 986.0,224.5 986.5,224.9 987.0,225.3 987.5,225.7 988.0,226.2 988.5,226.6 989.0,227.0 989.5,227.4 990.0,227.8 990.5,228.2 991.0,228.7 991.5,229.1 992.0,229.5 992.5,229.9 993.0,230.4 993.5,230.8 994.0,231.2 994.5,231.7 995.0,232.1 995.5,232.6 996.0,233.0 996.4,233.4 996.4,221.6 996.0,221.3 995.5,220.8 995.0,220.4 994.5,219.9 994.0,219.5 993.5,219.0 993.0,218.6 992.5,218.1 992.0,217.7 991.5,217.2 991.0,216.8 990.5,216.3 990.0,215.9 989.5,215.5 989.0,215.0 988.5,214.6 988.0,214.2 987.5,213.7 987.0,213.3 986.5,212.9 986.0,212.5 985.5,212.0 985.0,211.6 984.5,211.2 984.0,210.8 983.5,210.4 983.0,209.9 982.5,209.5 982.0,209.1 981.5,208.7 981.0,208.3 980.5,207.9 980.0,207.5 979.5,207.1 979.0,206.7 978.5,206.3 978.0,205.9 977.5,205.5 977.0,205.1 976.5,204.8 976.0,204.4 975.5,204.0 975.0,203.7 974.5,203.3 974.0,203.0 973.5,202.6 973.0,202.3 972.5,202.0 972.0,201.6 971.5,201.3 971.0,201.0 970.5,200.7 970.0,200.4 969.5,200.1 969.0,199.8 968.5,199.5 968.0,199.2 967.5,199.0 967.0,198.7 966.5,198.4 966.0,198.1 965.5,197.8 965.0,197.6 964.5,197.3 964.0,197.0 963.5,196.8 963.0,196.5 962.5,196.2 962.0,196.0 961.5,195.7 961.0,195.5 960.5,195.2 960.0,195.0 959.5,194.7 959.0,194.5 958.5,194.3 958.0,194.1 957.5,193.8 957.0,193.6 956.5,193.4 956.0,193.2 955.5,193.0 955.0,192.8 954.5,192.7 954.0,192.5 953.5,192.3 953.0,192.1 952.5,192.0 952.0,191.8 951.5,191.7 951.0,191.5 950.5,191.4 950.0,191.3 949.5,191.1 949.0,191.0 948.5,190.9 948.0,190.8 947.5,190.6 947.0,190.5 946.5,190.4 946.0,190.3 945.5,190.2 945.0,190.1 944.5,190.0 944.0,189.9 943.5,189.8 943.0,189.6 942.5,189.5 942.0,189.4 941.5,189.3 941.0,189.2 940.5,189.1 940.0,189.0 939.5,188.9 939.0,188.8 938.5,188.7 938.0,188.6 937.5,188.5 937.0,188.4 936.5,188.3 936.0,188.2 935.5,188.1 935.0,188.0 934.5,187.8 934.0,187.7 933.5,187.6 933.0,187.5 932.5,187.3 932.0,187.2 931.5,187.1 931.0,187.1 930.5,187.0 930.0,186.9 929.5,186.9 929.0,186.8 928.5,186.8 928.0,186.7 927.5,186.7 927.0,186.7 926.5,186.6 926.0,186.6 925.5,186.6 925.0,186.5 924.5,186.5 924.0,186.5 923.5,186.4 923.0,186.4 922.5,186.4 922.0,186.4 921.5,186.3 921.0,186.3 920.5,186.3 920.0,186.2 919.5,186.2 919.0,186.2 918.5,186.1 918.0,186.1 917.5,186.1 917.0,186.0 916.5,186.0 916.0,185.9 915.5,185.9 915.0,185.8 914.5,185.7 914.0,185.7 913.5,185.6 913.0,185.6 912.5,185.5 912.0,185.5 911.5,185.4 911.0,185.4 910.5,185.3 910.0,185.3 909.5,185.3 909.0,185.2 908.5,185.2 908.0,185.2 907.5,185.1 907.0,185.1 906.5,185.1 906.0,185.0 905.5,185.0 905.0,185.0 904.5,184.9 904.0,184.9 903.5,184.9 903.0,184.9 902.5,184.8 902.0,184.8 901.5,184.8 901.0,184.8 900.5,184.7 900.0,184.7 899.5,184.7 899.0,184.7 898.5,184.6 898.0,184.6 897.5,184.6 897.0,184.5 896.5,184.5 896.0,184.5 895.5,184.5 895.0,184.4 894.5,184.4 894.0,184.4 893.5,184.4 893.0,184.4 892.5,184.4 892.0,184.4 891.5,184.4 891.0,184.4 890.5,184.4 890.0,184.5 889.5,184.5 889.0,184.5 888.5,184.5 888.0,184.6 887.5,184.6 887.0,184.6 886.5,184.7 886.0,184.7" fill="#ff0000" stroke="#ff0000" stroke-width="1.5" stroke-linejoin="round"/>
</g>
<line x1="47.5" y1="396.7" x2="47.5" y2="397.3" stroke="#26a69a" stroke-width="1"/>
<rect x="45.0" y="396.7" width="5" height="0.6" fill="#26a69a"/>
<line x1="54.5" y1="393.0" x2="54.5" y2="397.3" stroke="#26a69a" stroke-width="1"/>
<rect x="52.0" y="396.7" width="5" height="0.6" fill="#26a69a"/>
<line x1="61.5" y1="395.8" x2="61.5" y2="397.3" stroke="#ef5350" stroke-width="1"/>
<rect x="59.0" y="396.2" width="5" height="1.1" fill="#ef5350"/>
<line x1="68.5" y1="396.7" x2="68.5" y2="397.3" stroke="#ef5350" stroke-width="1"/>
<rect x="66.0" y="396.7" width="5" height="0.6" fill="#ef5350"/>
<line x1="336.5" y1="396.2" x2="336.5" y2="399.0" stroke="#26a69a" stroke-width="1"/>
<rect x="334.0" y="396.2" width="5" height="2.8" fill="#26a69a"/>
<line x1="343.5" y1="377.4" x2="343.5" y2="397.6" stroke="#26a69a" stroke-width="1"/>
<rect x="341.0" y="381.2" width="5" height="16.4" fill="#26a69a"/>
<line x1="350.5" y1="363.0" x2="350.5" y2="389.0" stroke="#26a69a" stroke-width="1"/>
<rect x="348.0" y="364.0" width="5" height="18.0" fill="#26a69a"/>
<line x1="356.5" y1="303.8" x2="356.5" y2="364.0" stroke="#26a69a" stroke-width="1"/>
<rect x="354.0" y="329.4" width="5" height="34.6" fill="#26a69a"/>
<line x1="363.5" y1="316.9" x2="363.5" y2="338.4" stroke="#26a69a" stroke-width="1"/>
<rect x="361.0" y="320.7" width="5" height="9.6" fill="#26a69a"/>
<line x1="370.5" y1="306.3" x2="370.5" y2="341.5" stroke="#ef5350" stroke-width="1"/>
<rect x="368.0" y="321.1" width="5" height="15.6" fill="#ef5350"/>
<line x1="377.5" y1="322.7" x2="377.5" y2="354.3" stroke="#26a69a" stroke-width="1"/>
<rect x="375.0" y="333.8" width="5" height="2.9" fill="#26a69a"/>
<line x1="384.5" y1="325.2" x2="384.5" y2="346.7" stroke="#26a69a" stroke-width="1"/>
<rect x="382.0" y="333.0" width="5" height="1.3" fill="#26a69a"/>
<line x1="391.5" y1="287.0" x2="391.5" y2="333.8" stroke="#26a69a" stroke-width="1"/>
<rect x="389.0" y="287.0" width="5" height="46.8" fill="#26a69a"/>
<line x1="398.5" y1="246.1" x2="398.5" y2="289.0" stroke="#26a69a" stroke-width="1"/>
<rect x="396.0" y="274.1" width="5" height="13.9" fill="#26a69a"/>
<line x1="405.5" y1="261.1" x2="405.5" y2="292.8" stroke="#ef5350" stroke-width="1"/>
<rect x="403.0" y="274.1" width="5" height="15.8" fill="#ef5350"/>
<line x1="411.5" y1="259.1" x2="411.5" y2="289.9" stroke="#26a69a" stroke-width="1"/>
<rect x="409.0" y="278.4" width="5" height="10.5" fill="#26a69a"/>
<line x1="418.5" y1="265.9" x2="418.5" y2="281.8" stroke="#26a69a" stroke-width="1"/>
<rect x="416.0" y="275.1" width="5" height="3.8" fill="#26a69a"/>
<line x1="425.5" y1="235.1" x2="425.5" y2="275.5" stroke="#26a69a" stroke-width="1"/>
<rect x="423.0" y="253.0" width="5" height="22.5" fill="#26a69a"/>
<line x1="432.5" y1="245.3" x2="432.5" y2="264.0" stroke="#26a69a" stroke-width="1"/>
<rect x="430.0" y="245.3" width="5" height="9.6" fill="#26a69a"/>
<line x1="439.5" y1="164.0" x2="439.5" y2="248.5" stroke="#26a69a" stroke-width="1"/>
<rect x="437.0" y="174.2" width="5" height="71.1" fill="#26a69a"/>
<line x1="446.5" y1="125.1" x2="446.5" y2="174.6" stroke="#26a69a" stroke-width="1"/>
<rect x="444.0" y="156.3" width="5" height="18.3" fill="#26a69a"/>
<line x1="453.5" y1="144.8" x2="453.5" y2="201.9" stroke="#ef5350" stroke-width="1"/>
<rect x="451.0" y="156.3" width="5" height="16.4" fill="#ef5350"/>
<line x1="460.5" y1="151.9" x2="460.5" y2="205.9" stroke="#ef5350" stroke-width="1"/>
<rect x="458.0" y="173.0" width="5" height="29.4" fill="#ef5350"/>
<line x1="466.5" y1="184.2" x2="466.5" y2="225.9" stroke="#26a69a" stroke-width="1"/>
<rect x="464.0" y="195.3" width="5" height="6.6" fill="#26a69a"/>
<line x1="473.5" y1="165.0" x2="473.5" y2="204.7" stroke="#26a69a" stroke-width="1"/>
<rect x="471.0" y="176.1" width="5" height="19.6" fill="#26a69a"/>
<line x1="480.5" y1="163.0" x2="480.5" y2="190.9" stroke="#26a69a" stroke-width="1"/>
<rect x="478.0" y="169.2" width="5" height="7.3" fill="#26a69a"/>
<line x1="487.5" y1="144.2" x2="487.5" y2="169.4" stroke="#26a69a" stroke-width="1"/>
<rect x="485.0" y="153.1" width="5" height="16.3" fill="#26a69a"/>
<line x1="494.5" y1="127.0" x2="494.5" y2="161.6" stroke="#26a69a" stroke-width="1"/>
<rect x="492.0" y="152.4" width="5" height="1.5" fill="#26a69a"/>
<line x1="501.5" y1="121.3" x2="501.5" y2="166.5" stroke="#26a69a" stroke-width="1"/>
<rect x="499.0" y="126.5" width="5" height="26.5" fill="#26a69a"/>
<line x1="508.5" y1="91.9" x2="508.5" y2="159.7" stroke="#26a69a" stroke-width="1"/>
<rect x="506.0" y="106.9" width="5" height="19.6" fill="#26a69a"/>
<line x1="515.5" y1="62.3" x2="515.5" y2="129.0" stroke="#ef5350" stroke-width="1"/>
<rect x="513.0" y="107.2" width="5" height="3.9" fill="#ef5350"/>
<line x1="521.5" y1="93.0" x2="521.5" y2="128.6" stroke="#ef5350" stroke-width="1"/>
<rect x="519.0" y="110.1" width="5" height="2.5" fill="#ef5350"/>
<line x1="528.5" y1="91.9" x2="528.5" y2="138.0" stroke="#ef5350" stroke-width="1"/>
<rect x="526.0" y="112.0" width="5" height="10.8" fill="#ef5350"/>
<line x1="535.5" y1="94.0" x2="535.5" y2="130.9" stroke="#26a69a" stroke-width="1"/>
<rect x="533.0" y="98.2" width="5" height="25.6" fill="#26a69a"/>
<line x1="542.5" y1="94.0" x2="542.5" y2="111.7" stroke="#ef5350" stroke-width="1"/>
<rect x="540.0" y="97.6" width="5" height="7.0" fill="#ef5350"/>
<line x1="549.5" y1="99.2" x2="549.5" y2="118.0" stroke="#ef5350" stroke-width="1"/>
<rect x="547.0" y="104.4" width="5" height="6.3" fill="#ef5350"/>
<line x1="556.5" y1="110.1" x2="556.5" y2="210.7" stroke="#ef5350" stroke-width="1"/>
<rect x="554.0" y="110.1" width="5" height="69.7" fill="#ef5350"/>
<line x1="563.5" y1="167.5" x2="563.5" y2="213.0" stroke="#26a69a" stroke-width="1"/>
<rect x="561.0" y="172.3" width="5" height="7.5" fill="#26a69a"/>
<line x1="570.5" y1="139.1" x2="570.5" y2="189.6" stroke="#26a69a" stroke-width="1"/>
<rect x="568.0" y="149.2" width="5" height="23.5" fill="#26a69a"/>
<line x1="576.5" y1="115.5" x2="576.5" y2="153.9" stroke="#26a69a" stroke-width="1"/>
<rect x="574.0" y="136.1" width="5" height="13.4" fill="#26a69a"/>
<line x1="583.5" y1="132.8" x2="583.5" y2="152.5" stroke="#ef5350" stroke-width="1"/>
<rect x="581.0" y="136.1" width="5" height="1.5" fill="#ef5350"/>
<line x1="590.5" y1="133.0" x2="590.5" y2="164.5" stroke="#ef5350" stroke-width="1"/>
<rect x="588.0" y="137.2" width="5" height="22.7" fill="#ef5350"/>
<line x1="597.5" y1="140.7" x2="597.5" y2="165.3" stroke="#26a69a" stroke-width="1"/>
<rect x="595.0" y="145.1" width="5" height="14.8" fill="#26a69a"/>
<line x1="604.5" y1="137.4" x2="604.5" y2="163.2" stroke="#ef5350" stroke-width="1"/>
<rect x="602.0" y="144.1" width="5" height="9.5" fill="#ef5350"/>
<line x1="611.5" y1="140.3" x2="611.5" y2="164.5" stroke="#ef5350" stroke-width="1"/>
<rect x="609.0" y="152.0" width="5" height="10.3" fill="#ef5350"/>
<line x1="618.5" y1="158.6" x2="618.5" y2="194.6" stroke="#ef5350" stroke-width="1"/>
<rect x="616.0" y="160.6" width="5" height="31.9" fill="#ef5350"/>
<line x1="625.5" y1="185.2" x2="625.5" y2="235.5" stroke="#ef5350" stroke-width="1"/>
<rect x="623.0" y="192.3" width="5" height="32.2" fill="#ef5350"/>
<line x1="631.5" y1="196.1" x2="631.5" y2="266.0" stroke="#26a69a" stroke-width="1"/>
<rect x="629.0" y="199.4" width="5" height="24.2" fill="#26a69a"/>
<line x1="638.5" y1="182.3" x2="638.5" y2="222.0" stroke="#ef5350" stroke-width="1"/>
<rect x="636.0" y="200.3" width="5" height="15.4" fill="#ef5350"/>
<line x1="645.5" y1="208.6" x2="645.5" y2="231.6" stroke="#ef5350" stroke-width="1"/>
<rect x="643.0" y="215.3" width="5" height="8.3" fill="#ef5350"/>
<line x1="652.5" y1="201.9" x2="652.5" y2="230.7" stroke="#26a69a" stroke-width="1"/>
<rect x="650.0" y="207.0" width="5" height="16.6" fill="#26a69a"/>
<line x1="659.5" y1="199.4" x2="659.5" y2="219.5" stroke="#26a69a" stroke-width="1"/>
<rect x="657.0" y="204.4" width="5" height="4.2" fill="#26a69a"/>
<line x1="666.5" y1="202.2" x2="666.5" y2="216.3" stroke="#ef5350" stroke-width="1"/>
<rect x="664.0" y="204.4" width="5" height="7.5" fill="#ef5350"/>
<line x1="673.5" y1="207.6" x2="673.5" y2="234.5" stroke="#ef5350" stroke-width="1"/>
<rect x="671.0" y="211.1" width="5" height="20.5" fill="#ef5350"/>
<line x1="680.5" y1="212.4" x2="680.5" y2="233.6" stroke="#26a69a" stroke-width="1"/>
<rect x="678.0" y="226.5" width="5" height="5.1" fill="#26a69a"/>
<line x1="686.5" y1="217.6" x2="686.5" y2="228.4" stroke="#26a69a" stroke-width="1"/>
<rect x="684.0" y="221.5" width="5" height="4.0" fill="#26a69a"/>
<line x1="693.5" y1="213.4" x2="693.5" y2="234.5" stroke="#ef5350" stroke-width="1"/>
<rect x="691.0" y="221.1" width="5" height="11.5" fill="#ef5350"/>
<line x1="700.5" y1="216.3" x2="700.5" y2="240.3" stroke="#26a69a" stroke-width="1"/>
<rect x="698.0" y="231.3" width="5" height="2.3" fill="#26a69a"/>
<line x1="707.5" y1="225.3" x2="707.5" y2="238.7" stroke="#ef5350" stroke-width="1"/>
<rect x="705.0" y="231.3" width="5" height="6.1" fill="#ef5350"/>
<line x1="714.5" y1="204.7" x2="714.5" y2="240.3" stroke="#26a69a" stroke-width="1"/>
<rect x="712.0" y="210.5" width="5" height="26.9" fill="#26a69a"/>
<line x1="721.5" y1="187.5" x2="721.5" y2="209.5" stroke="#26a69a" stroke-width="1"/>
<rect x="719.0" y="195.1" width="5" height="14.4" fill="#26a69a"/>
<line x1="728.5" y1="136.9" x2="728.5" y2="196.0" stroke="#26a69a" stroke-width="1"/>
<rect x="726.0" y="149.0" width="5" height="46.1" fill="#26a69a"/>
<line x1="735.5" y1="138.8" x2="735.5" y2="160.3" stroke="#ef5350" stroke-width="1"/>
<rect x="733.0" y="148.0" width="5" height="8.1" fill="#ef5350"/>
<line x1="741.5" y1="139.8" x2="741.5" y2="160.3" stroke="#26a69a" stroke-width="1"/>
<rect x="739.0" y="147.1" width="5" height="8.6" fill="#26a69a"/>
<line x1="748.5" y1="138.8" x2="748.5" y2="158.0" stroke="#26a69a" stroke-width="1"/>
<rect x="746.0" y="147.1" width="5" height="0.8" fill="#26a69a"/>
<line x1="755.5" y1="125.0" x2="755.5" y2="184.5" stroke="#ef5350" stroke-width="1"/>
<rect x="753.0" y="147.1" width="5" height="37.4" fill="#ef5350"/>
<line x1="762.5" y1="173.4" x2="762.5" y2="213.7" stroke="#ef5350" stroke-width="1"/>
<rect x="760.0" y="184.9" width="5" height="16.3" fill="#ef5350"/>
<line x1="769.5" y1="195.5" x2="769.5" y2="223.4" stroke="#ef5350" stroke-width="1"/>
<rect x="767.0" y="200.3" width="5" height="15.3" fill="#ef5350"/>
<line x1="776.5" y1="189.7" x2="776.5" y2="218.0" stroke="#26a69a" stroke-width="1"/>
<rect x="774.0" y="206.0" width="5" height="9.6" fill="#26a69a"/>
<line x1="783.5" y1="174.3" x2="783.5" y2="211.8" stroke="#26a69a" stroke-width="1"/>
<rect x="781.0" y="182.0" width="5" height="24.0" fill="#26a69a"/>
<line x1="790.5" y1="167.0" x2="790.5" y2="193.9" stroke="#ef5350" stroke-width="1"/>
<rect x="788.0" y="182.0" width="5" height="10.6" fill="#ef5350"/>
<line x1="796.5" y1="187.8" x2="796.5" y2="225.7" stroke="#ef5350" stroke-width="1"/>
<rect x="794.0" y="193.0" width="5" height="8.8" fill="#ef5350"/>
<line x1="803.5" y1="177.2" x2="803.5" y2="201.8" stroke="#26a69a" stroke-width="1"/>
<rect x="801.0" y="182.0" width="5" height="19.8" fill="#26a69a"/>
<line x1="810.5" y1="148.0" x2="810.5" y2="184.9" stroke="#26a69a" stroke-width="1"/>
<rect x="808.0" y="153.2" width="5" height="28.8" fill="#26a69a"/>
<line x1="817.5" y1="127.9" x2="817.5" y2="169.5" stroke="#26a69a" stroke-width="1"/>
<rect x="815.0" y="148.0" width="5" height="4.6" fill="#26a69a"/>
<line x1="824.5" y1="120.0" x2="824.5" y2="148.4" stroke="#26a69a" stroke-width="1"/>
<rect x="822.0" y="132.1" width="5" height="16.3" fill="#26a69a"/>
<line x1="831.5" y1="127.9" x2="831.5" y2="162.2" stroke="#ef5350" stroke-width="1"/>
<rect x="829.0" y="132.1" width="5" height="11.5" fill="#ef5350"/>
<line x1="838.5" y1="125.4" x2="838.5" y2="192.6" stroke="#ef5350" stroke-width="1"/>
<rect x="836.0" y="144.2" width="5" height="39.8" fill="#ef5350"/>
<line x1="845.5" y1="144.2" x2="845.5" y2="194.5" stroke="#26a69a" stroke-width="1"/>
<rect x="843.0" y="177.8" width="5" height="8.0" fill="#26a69a"/>
<line x1="852.5" y1="170.1" x2="852.5" y2="197.4" stroke="#ef5350" stroke-width="1"/>
<rect x="850.0" y="177.8" width="5" height="1.5" fill="#ef5350"/>
<line x1="858.5" y1="174.2" x2="858.5" y2="188.5" stroke="#ef5350" stroke-width="1"/>
<rect x="856.0" y="179.0" width="5" height="8.8" fill="#ef5350"/>
<line x1="865.5" y1="177.3" x2="865.5" y2="197.6" stroke="#26a69a" stroke-width="1"/>
<rect x="863.0" y="186.1" width="5" height="2.3" fill="#26a69a"/>
<line x1="872.5" y1="177.3" x2="872.5" y2="193.2" stroke="#ef5350" stroke-width="1"/>
<rect x="870.0" y="185.2" width="5" height="6.5" fill="#ef5350"/>
<line x1="879.5" y1="184.6" x2="879.5" y2="193.8" stroke="#26a69a" stroke-width="1"/>
<rect x="877.0" y="189.0" width="5" height="3.6" fill="#26a69a"/>
<line x1="886.5" y1="181.1" x2="886.5" y2="198.4" stroke="#ef5350" stroke-width="1"/>
<rect x="884.0" y="189.0" width="5" height="9.4" fill="#ef5350"/>
<line x1="893.5" y1="196.1" x2="893.5" y2="232.6" stroke="#ef5350" stroke-width="1"/>
<rect x="891.0" y="198.0" width="5" height="6.7" fill="#ef5350"/>
<line x1="900.5" y1="192.3" x2="900.5" y2="215.9" stroke="#ef5350" stroke-width="1"/>
<rect x="898.0" y="205.3" width="5" height="6.6" fill="#ef5350"/>
<line x1="907.5" y1="195.5" x2="907.5" y2="215.7" stroke="#26a69a" stroke-width="1"/>
<rect x="905.0" y="202.2" width="5" height="9.7" fill="#26a69a"/>
<line x1="913.5" y1="184.6" x2="913.5" y2="203.8" stroke="#26a69a" stroke-width="1"/>
<rect x="911.0" y="196.1" width="5" height="6.1" fill="#26a69a"/>
<line x1="920.5" y1="187.5" x2="920.5" y2="203.8" stroke="#ef5350" stroke-width="1"/>
<rect x="918.0" y="195.1" width="5" height="7.1" fill="#ef5350"/>
<line x1="927.5" y1="196.1" x2="927.5" y2="221.1" stroke="#ef5350" stroke-width="1"/>
<rect x="925.0" y="200.9" width="5" height="18.6" fill="#ef5350"/>
<line x1="934.5" y1="213.4" x2="934.5" y2="269.8" stroke="#ef5350" stroke-width="1"/>
<rect x="932.0" y="219.2" width="5" height="31.8" fill="#ef5350"/>
<line x1="941.5" y1="243.8" x2="941.5" y2="357.2" stroke="#26a69a" stroke-width="1"/>
<rect x="939.0" y="248.6" width="5" height="3.1" fill="#26a69a"/>
<line x1="948.5" y1="246.3" x2="948.5" y2="283.4" stroke="#ef5350" stroke-width="1"/>
<rect x="946.0" y="248.6" width="5" height="25.2" fill="#ef5350"/>
<line x1="955.5" y1="262.1" x2="955.5" y2="280.0" stroke="#ef5350" stroke-width="1"/>
<rect x="953.0" y="274.2" width="5" height="4.8" fill="#ef5350"/>
<line x1="962.5" y1="265.5" x2="962.5" y2="290.1" stroke="#ef5350" stroke-width="1"/>
<rect x="960.0" y="278.0" width="5" height="11.2" fill="#ef5350"/>
<line x1="968.5" y1="270.9" x2="968.5" y2="292.4" stroke="#26a69a" stroke-width="1"/>
<rect x="966.0" y="287.0" width="5" height="1.6" fill="#26a69a"/>
<line x1="975.5" y1="283.4" x2="975.5" y2="295.3" stroke="#ef5350" stroke-width="1"/>
<rect x="973.0" y="287.0" width="5" height="2.2" fill="#ef5350"/>
<line x1="982.5" y1="284.4" x2="982.5" y2="306.4" stroke="#ef5350" stroke-width="1"/>
<rect x="980.0" y="289.0" width="5" height="8.2" fill="#ef5350"/>
<line x1="989.5" y1="280.3" x2="989.5" y2="302.6" stroke="#26a69a" stroke-width="1"/>
<rect x="987.0" y="285.3" width="5" height="11.9" fill="#26a69a"/>
<line x1="996.5" y1="246.0" x2="996.5" y2="285.8" stroke="#26a69a" stroke-width="1"/>
<rect x="994.0" y="251.0" width="5" height="34.2" fill="#26a69a"/>
</g>
<text x="979.1" y="213.8" font-size="15.6" fill="#e33a4e" text-anchor="start" font-weight="normal" textLength="116.2" lengthAdjust="spacingAndGlyphs" stroke="#e33a4e" stroke-width="0.22">Resistance Level</text>
<text x="985.2" y="317.3" font-size="15.6" fill="#e33a4e" text-anchor="start" font-weight="normal" textLength="97.4" lengthAdjust="spacingAndGlyphs" stroke="#e33a4e" stroke-width="0.22">Support Level</text>
<g>
<circle cx="996.9" cy="386.2" r="11" fill="#fff"/>
<circle cx="996.9" cy="386.2" r="9.6" fill="#fff" stroke="#9c27b0" stroke-width="1.3"/>
<polyline points="999.2,381.6 993.4,386.5 999.2,386.7 993.7,391.5" fill="none" stroke="#a22ab4" stroke-width="1.3" stroke-linejoin="miter"/>
<path d="M986 383.8 Q987.792 388.336 992.4 390.1 Q987.792 391.86400000000003 986 396.40000000000003 Q984.208 391.86400000000003 979.6 390.1 Q984.208 388.336 986 383.8 Z" fill="#fff" stroke="#fff" stroke-width="1.5"/>
<path d="M986 385.70000000000005 Q987.26 388.868 990.5 390.1 Q987.26 391.33200000000005 986 394.5 Q984.74 391.33200000000005 981.5 390.1 Q984.74 388.868 986 385.70000000000005 Z" fill="#7b52ff" stroke="#7b52ff" stroke-width="0.8" stroke-linejoin="round"/>
</g>
<clipPath id="p2"><rect x="10" y="400" width="1195.5" height="110"/></clipPath>
<g clip-path="url(#p2)">
<rect x="10" y="446.1" width="6" height="11.9" fill="#05b8f4"/>
<rect x="17" y="447.0" width="5" height="11.0" fill="#05b8f4"/>
<rect x="23" y="443.2" width="6" height="14.8" fill="#05b8f4"/>
<rect x="30" y="436.1" width="6" height="21.9" fill="#05b8f4"/>
<rect x="37" y="434.2" width="6" height="23.8" fill="#05b8f4"/>
<rect x="44" y="430.1" width="6" height="27.9" fill="#05b8f4"/>
<rect x="51" y="427.3" width="6" height="30.7" fill="#05b8f4"/>
<rect x="58" y="425.9" width="6" height="32.1" fill="#05b8f4"/>
<rect x="65" y="427.3" width="6" height="30.7" fill="#05b8f4"/>
<rect x="72" y="439.0" width="5" height="19.0" fill="#05b8f4"/>
<rect x="78" y="453.4" width="6" height="4.6" fill="#8c8c8c"/>
<rect x="85" y="457.0" width="6" height="7.3" fill="#fb0560"/>
<rect x="92" y="457.0" width="6" height="13.6" fill="#fb0560"/>
<rect x="99" y="457.0" width="6" height="14.6" fill="#fb0560"/>
<rect x="106" y="457.0" width="6" height="14.6" fill="#fb0560"/>
<rect x="113" y="457.0" width="6" height="11.5" fill="#fb0560"/>
<rect x="120" y="457.0" width="6" height="12.5" fill="#fb0560"/>
<rect x="127" y="457.0" width="5" height="14.6" fill="#fb0560"/>
<rect x="133" y="457.0" width="6" height="18.4" fill="#fb0560"/>
<rect x="140" y="457.0" width="6" height="20.7" fill="#fb0560"/>
<rect x="147" y="457.0" width="6" height="13.6" fill="#fb0560"/>
<rect x="154" y="457.0" width="6" height="8.6" fill="#fb0560"/>
<rect x="161" y="457.0" width="6" height="7.7" fill="#fb0560"/>
<rect x="188" y="457.0" width="6" height="4.8" fill="#fb0560"/>
<rect x="195" y="457.0" width="6" height="4.8" fill="#fb0560"/>
<rect x="209" y="453.2" width="6" height="4.8" fill="#8c8c8c"/>
<rect x="216" y="451.2" width="6" height="6.8" fill="#05b8f4"/>
<rect x="223" y="448.0" width="6" height="10.0" fill="#05b8f4"/>
<rect x="243" y="457.0" width="6" height="11.7" fill="#fb0560"/>
<rect x="250" y="457.0" width="6" height="14.0" fill="#fb0560"/>
<rect x="257" y="457.0" width="6" height="11.7" fill="#fb0560"/>
<rect x="264" y="457.0" width="6" height="9.6" fill="#fb0560"/>
<rect x="305" y="457.0" width="6" height="4.8" fill="#fb0560"/>
<rect x="312" y="457.0" width="6" height="9.6" fill="#fb0560"/>
<rect x="319" y="457.0" width="6" height="9.6" fill="#fb0560"/>
<rect x="333" y="446.1" width="6" height="11.9" fill="#05b8f4"/>
<rect x="340" y="436.1" width="6" height="21.9" fill="#05b8f4"/>
<rect x="347" y="428.2" width="5" height="29.8" fill="#05b8f4"/>
<rect x="353" y="420.2" width="6" height="37.8" fill="#05b8f4"/>
<rect x="360" y="415.0" width="6" height="43.0" fill="#05b8f4"/>
<rect x="367" y="418.8" width="6" height="39.2" fill="#05b8f4"/>
<rect x="374" y="420.7" width="6" height="37.3" fill="#05b8f4"/>
<rect x="381" y="421.7" width="6" height="36.3" fill="#05b8f4"/>
<rect x="388" y="418.6" width="6" height="39.4" fill="#05b8f4"/>
<rect x="395" y="415.9" width="6" height="42.1" fill="#05b8f4"/>
<rect x="402" y="418.6" width="5" height="39.4" fill="#05b8f4"/>
<rect x="408" y="420.7" width="6" height="37.3" fill="#05b8f4"/>
<rect x="415" y="420.7" width="6" height="37.3" fill="#05b8f4"/>
<rect x="422" y="419.8" width="6" height="38.2" fill="#05b8f4"/>
<rect x="429" y="417.9" width="6" height="40.1" fill="#05b8f4"/>
<rect x="436" y="415.0" width="6" height="43.0" fill="#05b8f4"/>
<rect x="443" y="410.9" width="6" height="47.1" fill="#05b8f4"/>
<rect x="450" y="414.4" width="6" height="43.6" fill="#05b8f4"/>
<rect x="457" y="422.1" width="5" height="35.9" fill="#05b8f4"/>
<rect x="463" y="428.0" width="6" height="30.0" fill="#05b8f4"/>
<rect x="470" y="429.0" width="6" height="29.0" fill="#05b8f4"/>
<rect x="477" y="429.0" width="6" height="29.0" fill="#05b8f4"/>
<rect x="484" y="427.1" width="6" height="30.9" fill="#05b8f4"/>
<rect x="491" y="426.1" width="6" height="31.9" fill="#05b8f4"/>
<rect x="498" y="423.0" width="6" height="35.0" fill="#05b8f4"/>
<rect x="505" y="420.2" width="6" height="37.8" fill="#05b8f4"/>
<rect x="512" y="418.8" width="5" height="39.2" fill="#05b8f4"/>
<rect x="518" y="420.0" width="6" height="38.0" fill="#05b8f4"/>
<rect x="525" y="424.0" width="6" height="34.0" fill="#05b8f4"/>
<rect x="532" y="424.0" width="6" height="34.0" fill="#05b8f4"/>
<rect x="539" y="425.9" width="6" height="32.1" fill="#05b8f4"/>
<rect x="546" y="429.9" width="6" height="28.1" fill="#05b8f4"/>
<rect x="553" y="447.0" width="6" height="11.0" fill="#8c8c8c"/>
<rect x="608" y="457.0" width="6" height="6.7" fill="#fb0560"/>
<rect x="615" y="457.0" width="6" height="12.5" fill="#fb0560"/>
<rect x="622" y="457.0" width="5" height="20.7" fill="#fb0560"/>
<rect x="628" y="457.0" width="6" height="18.4" fill="#fb0560"/>
<rect x="635" y="457.0" width="6" height="19.8" fill="#fb0560"/>
<rect x="642" y="457.0" width="6" height="21.7" fill="#fb0560"/>
<rect x="649" y="457.0" width="6" height="18.4" fill="#fb0560"/>
<rect x="656" y="457.0" width="6" height="15.6" fill="#fb0560"/>
<rect x="663" y="457.0" width="6" height="14.6" fill="#fb0560"/>
<rect x="670" y="457.0" width="6" height="17.5" fill="#fb0560"/>
<rect x="677" y="457.0" width="5" height="17.5" fill="#fb0560"/>
<rect x="683" y="457.0" width="6" height="16.5" fill="#fb0560"/>
<rect x="690" y="457.0" width="6" height="17.5" fill="#fb0560"/>
<rect x="697" y="457.0" width="6" height="18.4" fill="#fb0560"/>
<rect x="704" y="457.0" width="6" height="20.7" fill="#fb0560"/>
<rect x="711" y="457.0" width="6" height="11.5" fill="#fb0560"/>
<rect x="725" y="446.1" width="6" height="11.9" fill="#8c8c8c"/>
<rect x="732" y="439.9" width="5" height="18.1" fill="#8c8c8c"/>
<rect x="738" y="435.1" width="6" height="22.9" fill="#05b8f4"/>
<rect x="745" y="432.1" width="6" height="25.9" fill="#05b8f4"/>
<rect x="752" y="440.9" width="6" height="17.1" fill="#8c8c8c"/>
<rect x="759" y="450.3" width="6" height="7.7" fill="#8c8c8c"/>
<rect x="773" y="457.0" width="6" height="5.8" fill="#fb0560"/>
<rect x="807" y="450.3" width="6" height="7.7" fill="#8c8c8c"/>
<rect x="814" y="445.1" width="6" height="12.9" fill="#8c8c8c"/>
<rect x="821" y="439.0" width="6" height="19.0" fill="#05b8f4"/>
<rect x="828" y="439.0" width="6" height="19.0" fill="#05b8f4"/>
<rect x="835" y="448.0" width="6" height="10.0" fill="#8c8c8c"/>
<rect x="842" y="453.2" width="6" height="4.8" fill="#8c8c8c"/>
<rect x="862" y="457.0" width="6" height="5.8" fill="#fb0560"/>
<rect x="869" y="457.0" width="6" height="8.6" fill="#fb0560"/>
<rect x="876" y="457.0" width="6" height="10.6" fill="#fb0560"/>
<rect x="883" y="457.0" width="6" height="13.6" fill="#fb0560"/>
<rect x="890" y="457.0" width="6" height="17.5" fill="#fb0560"/>
<rect x="897" y="457.0" width="6" height="21.7" fill="#fb0560"/>
<rect x="904" y="457.0" width="5" height="19.6" fill="#fb0560"/>
<rect x="910" y="457.0" width="6" height="15.0" fill="#fb0560"/>
<rect x="917" y="457.0" width="6" height="13.6" fill="#fb0560"/>
<rect x="924" y="457.0" width="6" height="17.5" fill="#fb0560"/>
<rect x="931" y="457.0" width="6" height="24.6" fill="#fb0560"/>
<rect x="938" y="457.0" width="6" height="28.6" fill="#fb0560"/>
<rect x="945" y="457.0" width="6" height="33.6" fill="#fb0560"/>
<rect x="952" y="457.0" width="6" height="36.7" fill="#fb0560"/>
<rect x="959" y="457.0" width="5" height="39.5" fill="#fb0560"/>
<rect x="965" y="457.0" width="6" height="41.7" fill="#fb0560"/>
<rect x="972" y="457.0" width="6" height="42.8" fill="#fb0560"/>
<rect x="979" y="457.0" width="6" height="43.8" fill="#fb0560"/>
<rect x="986" y="457.0" width="6" height="37.6" fill="#fb0560"/>
<rect x="993" y="457.0" width="6" height="21.7" fill="#fb0560"/>
<line x1="10" y1="457.5" x2="1000.4" y2="457.5" stroke="#fff" stroke-width="1" stroke-dasharray="1.5 2" />
</g>
<g stroke="#e3e5ea" stroke-width="1" fill="none" shape-rendering="crispEdges">
<rect x="10.5" y="27.5" width="1261" height="511" stroke="#e9ebef"/>
<line x1="1205.5" y1="27" x2="1205.5" y2="538"/>
<line x1="10" y1="399.5" x2="1271" y2="399.5"/>
<line x1="10" y1="510.5" x2="1271" y2="510.5"/>
</g>
<rect x="1206.0" y="28" width="64.5" height="371" fill="#fff"/>
<text x="1214.5" y="75.5" font-size="12.4" fill="#131722" text-anchor="start" font-weight="normal" textLength="28.5" lengthAdjust="spacingAndGlyphs" stroke="#131722" stroke-width="0.22">1.300</text>
<text x="1214.5" y="111.5" font-size="12.4" fill="#131722" text-anchor="start" font-weight="normal" textLength="28.5" lengthAdjust="spacingAndGlyphs" stroke="#131722" stroke-width="0.22">1.200</text>
<text x="1214.5" y="148.5" font-size="12.4" fill="#131722" text-anchor="start" font-weight="normal" textLength="28.5" lengthAdjust="spacingAndGlyphs" stroke="#131722" stroke-width="0.22">1.100</text>
<clipPath id="ax1"><rect x="1205.5" y="61.3" width="80" height="337.7"/></clipPath>
<g clip-path="url(#ax1)">
<path d="M1206 56 H1246.5 Q1249 56 1249 58.5 V70.2 Q1249 72.7 1246.5 72.7 H1206 Z" fill="#2962ff"/>
<text x="1214.5" y="68.64999999999999" font-size="12.4" fill="#fff" text-anchor="start" font-weight="normal" textLength="28.5" lengthAdjust="spacingAndGlyphs" stroke="#fff" stroke-width="0.22">1.320</text>
<path d="M1206 91.3 H1246.5 Q1249 91.3 1249 93.8 V105.5 Q1249 108 1246.5 108 H1206 Z" fill="#2962ff"/>
<text x="1214.5" y="103.95" font-size="12.4" fill="#fff" text-anchor="start" font-weight="normal" textLength="28.5" lengthAdjust="spacingAndGlyphs" stroke="#fff" stroke-width="0.22">1.224</text>
<path d="M1206 119.8 H1246.5 Q1249 119.8 1249 122.3 V133.9 Q1249 136.4 1246.5 136.4 H1206 Z" fill="#2962ff"/>
<text x="1214.5" y="132.4" font-size="12.4" fill="#fff" text-anchor="start" font-weight="normal" textLength="28.5" lengthAdjust="spacingAndGlyphs" stroke="#fff" stroke-width="0.22">1.147</text>
<path d="M1206 153.3 H1246.5 Q1249 153.3 1249 155.8 V167.5 Q1249 170 1246.5 170 H1206 Z" fill="#2962ff"/>
<text x="1214.5" y="165.95000000000002" font-size="12.4" fill="#fff" text-anchor="start" font-weight="normal" textLength="28.5" lengthAdjust="spacingAndGlyphs" stroke="#fff" stroke-width="0.22">1.053</text>
<path d="M1206 175.6 H1246.5 Q1249 175.6 1249 178.1 V189.7 Q1249 192.2 1246.5 192.2 H1206 Z" fill="#2962ff"/>
<text x="1214.5" y="188.2" font-size="12.4" fill="#fff" text-anchor="start" font-weight="normal" textLength="28.5" lengthAdjust="spacingAndGlyphs" stroke="#fff" stroke-width="0.22">0.940</text>
<path d="M1206 192.2 H1246.5 Q1249 192.2 1249 194.7 V206.3 Q1249 208.8 1246.5 208.8 H1206 Z" fill="#ff0000"/>
<text x="1214.5" y="204.8" font-size="12.4" fill="#fff" text-anchor="start" font-weight="normal" textLength="28.5" lengthAdjust="spacingAndGlyphs" stroke="#fff" stroke-width="0.22">0.888</text>
<path d="M1206 208.8 H1246.5 Q1249 208.8 1249 211.3 V223.1 Q1249 225.6 1246.5 225.6 H1206 Z" fill="#ff0000"/>
<text x="1214.5" y="221.5" font-size="12.4" fill="#fff" text-anchor="start" font-weight="normal" textLength="28.5" lengthAdjust="spacingAndGlyphs" stroke="#fff" stroke-width="0.22">0.854</text>
<path d="M1206 226.6 H1246.5 Q1249 226.6 1249 229.1 V240.6 Q1249 243.1 1246.5 243.1 H1206 Z" fill="#2962ff"/>
<text x="1214.5" y="239.15" font-size="12.4" fill="#fff" text-anchor="start" font-weight="normal" textLength="28.5" lengthAdjust="spacingAndGlyphs" stroke="#fff" stroke-width="0.22">0.834</text>
<path d="M1206 274.2 H1246.5 Q1249 274.2 1249 276.7 V288.5 Q1249 291 1246.5 291 H1206 Z" fill="#2962ff"/>
<text x="1214.5" y="286.90000000000003" font-size="12.4" fill="#fff" text-anchor="start" font-weight="normal" textLength="28.5" lengthAdjust="spacingAndGlyphs" stroke="#fff" stroke-width="0.22">0.767</text>
<path d="M1206 291 H1246.5 Q1249 291 1249 293.5 V306.1 Q1249 308.6 1246.5 308.6 H1206 Z" fill="#2962ff"/>
<text x="1214.5" y="304.1" font-size="12.4" fill="#fff" text-anchor="start" font-weight="normal" textLength="28.5" lengthAdjust="spacingAndGlyphs" stroke="#fff" stroke-width="0.22">0.677</text>
<path d="M1206 308.6 H1246.5 Q1249 308.6 1249 311.1 V322.9 Q1249 325.4 1246.5 325.4 H1206 Z" fill="#2962ff"/>
<text x="1214.5" y="321.3" font-size="12.4" fill="#fff" text-anchor="start" font-weight="normal" textLength="28.5" lengthAdjust="spacingAndGlyphs" stroke="#fff" stroke-width="0.22">0.626</text>
<path d="M1206 326.6 H1246.5 Q1249 326.6 1249 329.1 V340.7 Q1249 343.2 1246.5 343.2 H1206 Z" fill="#2962ff"/>
<text x="1214.5" y="339.2" font-size="12.4" fill="#fff" text-anchor="start" font-weight="normal" textLength="28.5" lengthAdjust="spacingAndGlyphs" stroke="#fff" stroke-width="0.22">0.577</text>
<path d="M1206 349.6 H1246.5 Q1249 349.6 1249 352.1 V365.1 Q1249 367.6 1246.5 367.6 H1206 Z" fill="#2962ff"/>
<text x="1214.5" y="362.90000000000003" font-size="12.4" fill="#fff" text-anchor="start" font-weight="normal" textLength="28.5" lengthAdjust="spacingAndGlyphs" stroke="#fff" stroke-width="0.22">0.511</text>
<path d="M1206 367.6 H1246.5 Q1249 367.6 1249 370.1 V382.2 Q1249 384.7 1246.5 384.7 H1206 Z" fill="#2962ff"/>
<text x="1214.5" y="380.45" font-size="12.4" fill="#fff" text-anchor="start" font-weight="normal" textLength="28.5" lengthAdjust="spacingAndGlyphs" stroke="#fff" stroke-width="0.22">0.488</text>
<path d="M1206 384.7 H1246.5 Q1249 384.7 1249 387.2 V399.0 Q1249 401.5 1246.5 401.5 H1206 Z" fill="#2962ff"/>
<text x="1214.5" y="397.40000000000003" font-size="12.4" fill="#fff" text-anchor="start" font-weight="normal" textLength="28.5" lengthAdjust="spacingAndGlyphs" stroke="#fff" stroke-width="0.22">0.449</text>
<path d="M1206 243.1 H1263.5 Q1266 243.1 1266 245.6 V271.5 Q1266 274 1263.5 274 H1206 Z" fill="#26a69a"/>
<text x="1214.5" y="255.8" font-size="12.4" fill="#fff" text-anchor="start" font-weight="normal" textLength="28.5" lengthAdjust="spacingAndGlyphs" stroke="#fff" stroke-width="0.22">0.807</text>
<text x="1214.5" y="269.8" font-size="12.4" fill="#fff" text-anchor="start" font-weight="normal" textLength="46" lengthAdjust="spacingAndGlyphs" stroke="#fff" stroke-width="0.22">15:10:00</text>
</g>
<rect x="1154" y="243.1" width="50.5" height="16.6" rx="2.5" fill="#26a69a"/>
<text x="1159.3" y="255.8" font-size="12.4" fill="#fff" text-anchor="start" font-weight="normal" textLength="41.5" lengthAdjust="spacingAndGlyphs" stroke="#fff" stroke-width="0.22">ADAUSD</text>
<rect x="1209.5" y="31.5" width="57" height="25" rx="4" fill="#fff" stroke="#ebedf2" stroke-width="1"/>
<text x="1218" y="48" font-size="12.4" fill="#131722" text-anchor="start" font-weight="normal" textLength="21.5" lengthAdjust="spacingAndGlyphs" stroke="#131722" stroke-width="0.22">USD</text>
<text x="1214.2" y="415" font-size="12.4" fill="#131722" text-anchor="start" font-weight="normal" textLength="35.5" lengthAdjust="spacingAndGlyphs" stroke="#131722" stroke-width="0.22">40.000</text>
<path d="M1206 428 H1252.5 Q1255 428 1255 430.5 V442.4 Q1255 444.9 1252.5 444.9 H1206 Z" fill="#0db7f2"/>
<text x="1214.2" y="440.8" font-size="12.4" fill="#131722" text-anchor="start" font-weight="normal" textLength="35.5" lengthAdjust="spacingAndGlyphs" stroke="#131722" stroke-width="0.22">15.478</text>
<path d="M1206 444.9 H1259.5 Q1262 444.9 1262 447.4 V459.6 Q1262 462.1 1259.5 462.1 H1206 Z" fill="#f8095f"/>
<text x="1214.2" y="457.8" font-size="12.4" fill="#fff" text-anchor="start" font-weight="normal" textLength="42.3" lengthAdjust="spacingAndGlyphs" stroke="#fff" stroke-width="0.22">−17.713</text>
<path d="M1206 462.1 H1259.5 Q1262 462.1 1262 464.6 V476.8 Q1262 479.3 1259.5 479.3 H1206 Z" fill="#707070"/>
<text x="1214.2" y="475" font-size="12.4" fill="#fff" text-anchor="start" font-weight="normal" textLength="42.3" lengthAdjust="spacingAndGlyphs" stroke="#fff" stroke-width="0.22">−17.713</text>
<text x="1214.2" y="492" font-size="12.4" fill="#131722" text-anchor="start" font-weight="normal" textLength="42.3" lengthAdjust="spacingAndGlyphs" stroke="#131722" stroke-width="0.22">−25.318</text>
<text x="1214.2" y="507.4" font-size="12.4" fill="#131722" text-anchor="start" font-weight="normal" textLength="42.3" lengthAdjust="spacingAndGlyphs" stroke="#131722" stroke-width="0.22">−40.000</text>
<text x="81.9" y="528" font-size="12.4" fill="#131722" text-anchor="middle" font-weight="normal" stroke="#131722" stroke-width="0.22">Oct</text>
<text x="171.3" y="528" font-size="12.4" fill="#131722" text-anchor="middle" font-weight="normal" stroke="#131722" stroke-width="0.22">14</text>
<text x="295.0" y="528" font-size="12.4" fill="#131722" text-anchor="middle" font-weight="normal" stroke="#131722" stroke-width="0.22">Nov</text>
<text x="411.9" y="528" font-size="12.4" fill="#131722" text-anchor="middle" font-weight="normal" stroke="#131722" stroke-width="0.22">18</text>
<text x="501.3" y="528" font-size="12.4" fill="#131722" text-anchor="middle" font-weight="normal" stroke="#131722" stroke-width="0.22">Dec</text>
<text x="604.5" y="528" font-size="12.4" fill="#131722" text-anchor="middle" font-weight="normal" stroke="#131722" stroke-width="0.22">16</text>
<text x="714.5" y="528" font-size="12.4" fill="#131722" text-anchor="middle" font-weight="bold" stroke="#131722" stroke-width="0.22">2025</text>
<text x="797.0" y="528" font-size="12.4" fill="#131722" text-anchor="middle" font-weight="normal" stroke="#131722" stroke-width="0.22">13</text>
<text x="927.6" y="528" font-size="12.4" fill="#131722" text-anchor="middle" font-weight="normal" stroke="#131722" stroke-width="0.22">Feb</text>
<text x="1037.7" y="528" font-size="12.4" fill="#131722" text-anchor="middle" font-weight="normal" stroke="#131722" stroke-width="0.22">17</text>
<text x="1120.2" y="528" font-size="12.4" fill="#131722" text-anchor="middle" font-weight="normal" stroke="#131722" stroke-width="0.22">Mar</text>
<text x="10.1" y="18.8" font-size="12.4" fill="#131722" text-anchor="start" font-weight="normal" textLength="64.8" lengthAdjust="spacingAndGlyphs" stroke="#131722" stroke-width="0.22">CROWNGIMS</text>
<text x="79.6" y="18.8" font-size="12.4" fill="#131722" text-anchor="start" font-weight="normal" textLength="50.0" lengthAdjust="spacingAndGlyphs" stroke="#131722" stroke-width="0.22">published</text>
<text x="134.6" y="18.8" font-size="12.4" fill="#131722" text-anchor="start" font-weight="normal" textLength="12.2" lengthAdjust="spacingAndGlyphs" stroke="#131722" stroke-width="0.22">on</text>
<text x="152.2" y="18.8" font-size="12.4" fill="#131722" text-anchor="start" font-weight="normal" textLength="92.8" lengthAdjust="spacingAndGlyphs" stroke="#131722" stroke-width="0.22">TradingView.com,</text>
<text x="250.6" y="18.8" font-size="12.4" fill="#131722" text-anchor="start" font-weight="normal" textLength="17.5" lengthAdjust="spacingAndGlyphs" stroke="#131722" stroke-width="0.22">Feb</text>
<text x="274.3" y="18.8" font-size="12.4" fill="#131722" text-anchor="start" font-weight="normal" textLength="14.1" lengthAdjust="spacingAndGlyphs" stroke="#131722" stroke-width="0.22">11,</text>
<text x="293.8" y="18.8" font-size="12.4" fill="#131722" text-anchor="start" font-weight="normal" textLength="23.0" lengthAdjust="spacingAndGlyphs" stroke="#131722" stroke-width="0.22">2025</text>
<text x="322.7" y="18.8" font-size="12.4" fill="#131722" text-anchor="start" font-weight="normal" textLength="28.1" lengthAdjust="spacingAndGlyphs" stroke="#131722" stroke-width="0.22">08:50</text>
<text x="356.3" y="18.8" font-size="12.4" fill="#131722" text-anchor="start" font-weight="normal" textLength="20.3" lengthAdjust="spacingAndGlyphs" stroke="#131722" stroke-width="0.22">UTC</text>
<text x="18" y="46.2" font-size="12.4" fill="#131722" text-anchor="start" font-weight="normal" textLength="43.5" lengthAdjust="spacingAndGlyphs" stroke="#131722" stroke-width="0.22">Cardano</text>
<text x="67.3" y="46.2" font-size="12.4" fill="#131722" text-anchor="start" font-weight="normal" textLength="3.9" lengthAdjust="spacingAndGlyphs" stroke="#131722" stroke-width="0.22">/</text>
<text x="75.7" y="46.2" font-size="12.4" fill="#131722" text-anchor="start" font-weight="normal" textLength="13.1" lengthAdjust="spacingAndGlyphs" stroke="#131722" stroke-width="0.22">US</text>
<text x="92.7" y="46.2" font-size="12.4" fill="#131722" text-anchor="start" font-weight="normal" textLength="32.2" lengthAdjust="spacingAndGlyphs" stroke="#131722" stroke-width="0.22">Dollar,</text>
<text x="131.1" y="46.2" font-size="12.4" fill="#131722" text-anchor="start" font-weight="normal" textLength="13.3" lengthAdjust="spacingAndGlyphs" stroke="#131722" stroke-width="0.22">1D,</text>
<text x="152.8" y="46.2" font-size="12.4" fill="#131722" text-anchor="start" font-weight="normal" textLength="45.4" lengthAdjust="spacingAndGlyphs" stroke="#131722" stroke-width="0.22">BINANCE</text>
<text x="205.9" y="46.2" font-size="12.4" fill="#131722" text-anchor="start" font-weight="normal" textLength="7.5" lengthAdjust="spacingAndGlyphs" stroke="#131722" stroke-width="0.22">O</text>
<text x="214.1" y="46.2" font-size="12.4" fill="#26a69a" text-anchor="start" font-weight="normal" textLength="28.6" lengthAdjust="spacingAndGlyphs" stroke="#26a69a" stroke-width="0.22">0.713</text>
<text x="251.4" y="46.2" font-size="12.4" fill="#131722" text-anchor="start" font-weight="normal" textLength="6.5" lengthAdjust="spacingAndGlyphs" stroke="#131722" stroke-width="0.22">H</text>
<text x="258.4" y="46.2" font-size="12.4" fill="#26a69a" text-anchor="start" font-weight="normal" textLength="28.3" lengthAdjust="spacingAndGlyphs" stroke="#26a69a" stroke-width="0.22">0.821</text>
<text x="295.9" y="46.2" font-size="12.4" fill="#131722" text-anchor="start" font-weight="normal" textLength="5.3" lengthAdjust="spacingAndGlyphs" stroke="#131722" stroke-width="0.22">L</text>
<text x="301.7" y="46.2" font-size="12.4" fill="#26a69a" text-anchor="start" font-weight="normal" textLength="28.8" lengthAdjust="spacingAndGlyphs" stroke="#26a69a" stroke-width="0.22">0.710</text>
<text x="338.7" y="46.2" font-size="12.4" fill="#131722" text-anchor="start" font-weight="normal" textLength="7.0" lengthAdjust="spacingAndGlyphs" stroke="#131722" stroke-width="0.22">C</text>
<text x="346.2" y="46.2" font-size="12.4" fill="#26a69a" text-anchor="start" font-weight="normal" textLength="28.3" lengthAdjust="spacingAndGlyphs" stroke="#26a69a" stroke-width="0.22">0.807</text>
<text x="383.2" y="46.2" font-size="12.4" fill="#26a69a" text-anchor="start" font-weight="normal" textLength="90.2" lengthAdjust="spacingAndGlyphs" stroke="#26a69a" stroke-width="0.22">+0.095 (+13.34%)</text>
<text x="18" y="63.1" font-size="12.4" fill="#131722" text-anchor="start" font-weight="normal" textLength="19.1" lengthAdjust="spacingAndGlyphs" stroke="#131722" stroke-width="0.22">Hull</text>
<text x="42" y="63.1" font-size="12.4" fill="#131722" text-anchor="start" font-weight="normal" textLength="23.4" lengthAdjust="spacingAndGlyphs" stroke="#131722" stroke-width="0.22">Suite</text>
<text x="69.9" y="63.1" font-size="12.4" fill="#131722" text-anchor="start" font-weight="normal" textLength="10.5" lengthAdjust="spacingAndGlyphs" stroke="#131722" stroke-width="0.22">by</text>
<text x="89.8" y="63.1" font-size="12.4" fill="#131722" text-anchor="start" font-weight="normal" textLength="38.0" lengthAdjust="spacingAndGlyphs" stroke="#131722" stroke-width="0.22">InSilico</text>
<text x="133.7" y="63.1" font-size="12.4" fill="#131722" text-anchor="start" font-weight="normal" textLength="33.2" lengthAdjust="spacingAndGlyphs" stroke="#131722" stroke-width="0.22">(close,</text>
<text x="171.7" y="63.1" font-size="12.4" fill="#131722" text-anchor="start" font-weight="normal" textLength="24.4" lengthAdjust="spacingAndGlyphs" stroke="#131722" stroke-width="0.22">Hma,</text>
<text x="204.2" y="63.1" font-size="12.4" fill="#131722" text-anchor="start" font-weight="normal" textLength="14.4" lengthAdjust="spacingAndGlyphs" stroke="#131722" stroke-width="0.22">51,</text>
<text x="224.8" y="63.1" font-size="12.4" fill="#131722" text-anchor="start" font-weight="normal" textLength="19.8" lengthAdjust="spacingAndGlyphs" stroke="#131722" stroke-width="0.22">1.5,</text>
<text x="249.7" y="63.1" font-size="12.4" fill="#131722" text-anchor="start" font-weight="normal" textLength="22.3" lengthAdjust="spacingAndGlyphs" stroke="#131722" stroke-width="0.22">240,</text>
<text x="276.7" y="63.1" font-size="12.4" fill="#131722" text-anchor="start" font-weight="normal" textLength="8.1" lengthAdjust="spacingAndGlyphs" stroke="#131722" stroke-width="0.22">1,</text>
<text x="289.5" y="63.1" font-size="12.4" fill="#131722" text-anchor="start" font-weight="normal" textLength="16.9" lengthAdjust="spacingAndGlyphs" stroke="#131722" stroke-width="0.22">40)</text>
<text x="315.3" y="63.1" font-size="12.4" fill="#f01010" text-anchor="start" font-weight="normal" textLength="29.3" lengthAdjust="spacingAndGlyphs" stroke="#f01010" stroke-width="0.22">0.854</text>
<text x="352.1" y="63.1" font-size="12.4" fill="#f01010" text-anchor="start" font-weight="normal" textLength="28.8" lengthAdjust="spacingAndGlyphs" stroke="#f01010" stroke-width="0.22">0.888</text>
<text x="17.9" y="419" font-size="12.4" fill="#131722" text-anchor="start" font-weight="normal" textLength="22.4" lengthAdjust="spacingAndGlyphs" stroke="#131722" stroke-width="0.22">QQE</text>
<text x="44.5" y="419" font-size="12.4" fill="#131722" text-anchor="start" font-weight="normal" textLength="23.1" lengthAdjust="spacingAndGlyphs" stroke="#131722" stroke-width="0.22">MOD</text>
<text x="72.6" y="419" font-size="12.4" fill="#131722" text-anchor="start" font-weight="normal" textLength="11.9" lengthAdjust="spacingAndGlyphs" stroke="#131722" stroke-width="0.22">(6,</text>
<text x="91.2" y="419" font-size="12.4" fill="#131722" text-anchor="start" font-weight="normal" textLength="8.6" lengthAdjust="spacingAndGlyphs" stroke="#131722" stroke-width="0.22">5,</text>
<text x="105.2" y="419" font-size="12.4" fill="#131722" text-anchor="start" font-weight="normal" textLength="9.0" lengthAdjust="spacingAndGlyphs" stroke="#131722" stroke-width="0.22">3,</text>
<text x="120" y="419" font-size="12.4" fill="#131722" text-anchor="start" font-weight="normal" textLength="8.6" lengthAdjust="spacingAndGlyphs" stroke="#131722" stroke-width="0.22">3,</text>
<text x="133.4" y="419" font-size="12.4" fill="#131722" text-anchor="start" font-weight="normal" textLength="30.7" lengthAdjust="spacingAndGlyphs" stroke="#131722" stroke-width="0.22">close,</text>
<text x="168.9" y="419" font-size="12.4" fill="#131722" text-anchor="start" font-weight="normal" textLength="8.6" lengthAdjust="spacingAndGlyphs" stroke="#131722" stroke-width="0.22">6,</text>
<text x="183.4" y="419" font-size="12.4" fill="#131722" text-anchor="start" font-weight="normal" textLength="9.7" lengthAdjust="spacingAndGlyphs" stroke="#131722" stroke-width="0.22">5,</text>
<text x="197.7" y="419" font-size="12.4" fill="#131722" text-anchor="start" font-weight="normal" textLength="23.6" lengthAdjust="spacingAndGlyphs" stroke="#131722" stroke-width="0.22">1.61,</text>
<text x="228.9" y="419" font-size="12.4" fill="#131722" text-anchor="start" font-weight="normal" textLength="8.7" lengthAdjust="spacingAndGlyphs" stroke="#131722" stroke-width="0.22">3,</text>
<text x="243" y="419" font-size="12.4" fill="#131722" text-anchor="start" font-weight="normal" textLength="31" lengthAdjust="spacingAndGlyphs" stroke="#131722" stroke-width="0.22">close,</text>
<text x="278.8" y="419" font-size="12.4" fill="#131722" text-anchor="start" font-weight="normal" textLength="14.4" lengthAdjust="spacingAndGlyphs" stroke="#131722" stroke-width="0.22">50,</text>
<text x="299" y="419" font-size="12.4" fill="#131722" text-anchor="start" font-weight="normal" textLength="26.9" lengthAdjust="spacingAndGlyphs" stroke="#131722" stroke-width="0.22">0.35)</text>
<text x="383.8" y="419" font-size="12.4" fill="#6e6e6e" text-anchor="start" font-weight="normal" textLength="40.8" lengthAdjust="spacingAndGlyphs" stroke="#6e6e6e" stroke-width="0.22">−17.713</text>
<circle cx="438.6" cy="414.6" r="3.9" fill="none" stroke="#3a3a3a" stroke-width="1.1"/>
<line x1="434.6" y1="419.2" x2="442.8" y2="410" stroke="#3a3a3a" stroke-width="1.1"/>
<text x="451.5" y="419" font-size="12.4" fill="#f0145f" text-anchor="start" font-weight="normal" textLength="41.2" lengthAdjust="spacingAndGlyphs" stroke="#f0145f" stroke-width="0.22">−17.713</text>
<g fill="#131722">
<path d="M10.1 550.3 H17.9 V559.5 H14 V553.7 H10.1 Z"/>
<circle cx="20.9" cy="552.1" r="1.85"/>
<path d="M24.1 550.3 H28.9 L25.6 559.5 H21.1 Z"/>
</g>
<text x="33.3" y="559.5" font-size="13" fill="#131722" text-anchor="start" font-weight="normal" textLength="69.6" lengthAdjust="spacingAndGlyphs" stroke="#131722" stroke-width="0.2">TradingView</text>
</svg>
</body></html>
